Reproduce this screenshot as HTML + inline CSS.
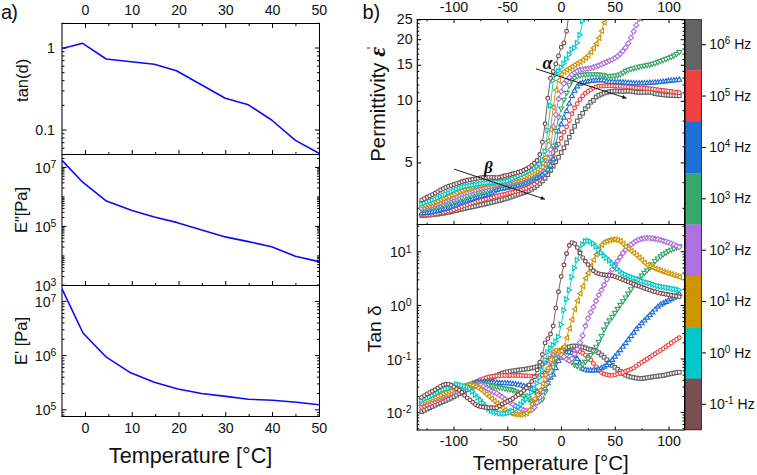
<!DOCTYPE html>
<html><head><meta charset="utf-8"><style>
html,body{margin:0;padding:0;background:#fff;}
svg{display:block;font-family:"Liberation Sans", sans-serif;}
text{fill:#111;}
</style></head><body>
<svg width="757" height="475" viewBox="0 0 757 475">
<rect width="757" height="475" fill="#fff"/>
<line x1="85.50" y1="23.50" x2="85.50" y2="28.00" stroke="#000" stroke-width="1"/>
<line x1="85.50" y1="154.50" x2="85.50" y2="150.00" stroke="#000" stroke-width="1"/>
<line x1="85.50" y1="285.50" x2="85.50" y2="281.00" stroke="#000" stroke-width="1"/>
<line x1="85.50" y1="416.50" x2="85.50" y2="412.00" stroke="#000" stroke-width="1"/>
<line x1="108.88" y1="23.50" x2="108.88" y2="26.00" stroke="#000" stroke-width="1"/>
<line x1="108.88" y1="154.50" x2="108.88" y2="152.00" stroke="#000" stroke-width="1"/>
<line x1="108.88" y1="285.50" x2="108.88" y2="283.00" stroke="#000" stroke-width="1"/>
<line x1="108.88" y1="416.50" x2="108.88" y2="414.00" stroke="#000" stroke-width="1"/>
<line x1="132.26" y1="23.50" x2="132.26" y2="28.00" stroke="#000" stroke-width="1"/>
<line x1="132.26" y1="154.50" x2="132.26" y2="150.00" stroke="#000" stroke-width="1"/>
<line x1="132.26" y1="285.50" x2="132.26" y2="281.00" stroke="#000" stroke-width="1"/>
<line x1="132.26" y1="416.50" x2="132.26" y2="412.00" stroke="#000" stroke-width="1"/>
<line x1="155.64" y1="23.50" x2="155.64" y2="26.00" stroke="#000" stroke-width="1"/>
<line x1="155.64" y1="154.50" x2="155.64" y2="152.00" stroke="#000" stroke-width="1"/>
<line x1="155.64" y1="285.50" x2="155.64" y2="283.00" stroke="#000" stroke-width="1"/>
<line x1="155.64" y1="416.50" x2="155.64" y2="414.00" stroke="#000" stroke-width="1"/>
<line x1="179.02" y1="23.50" x2="179.02" y2="28.00" stroke="#000" stroke-width="1"/>
<line x1="179.02" y1="154.50" x2="179.02" y2="150.00" stroke="#000" stroke-width="1"/>
<line x1="179.02" y1="285.50" x2="179.02" y2="281.00" stroke="#000" stroke-width="1"/>
<line x1="179.02" y1="416.50" x2="179.02" y2="412.00" stroke="#000" stroke-width="1"/>
<line x1="202.40" y1="23.50" x2="202.40" y2="26.00" stroke="#000" stroke-width="1"/>
<line x1="202.40" y1="154.50" x2="202.40" y2="152.00" stroke="#000" stroke-width="1"/>
<line x1="202.40" y1="285.50" x2="202.40" y2="283.00" stroke="#000" stroke-width="1"/>
<line x1="202.40" y1="416.50" x2="202.40" y2="414.00" stroke="#000" stroke-width="1"/>
<line x1="225.78" y1="23.50" x2="225.78" y2="28.00" stroke="#000" stroke-width="1"/>
<line x1="225.78" y1="154.50" x2="225.78" y2="150.00" stroke="#000" stroke-width="1"/>
<line x1="225.78" y1="285.50" x2="225.78" y2="281.00" stroke="#000" stroke-width="1"/>
<line x1="225.78" y1="416.50" x2="225.78" y2="412.00" stroke="#000" stroke-width="1"/>
<line x1="249.16" y1="23.50" x2="249.16" y2="26.00" stroke="#000" stroke-width="1"/>
<line x1="249.16" y1="154.50" x2="249.16" y2="152.00" stroke="#000" stroke-width="1"/>
<line x1="249.16" y1="285.50" x2="249.16" y2="283.00" stroke="#000" stroke-width="1"/>
<line x1="249.16" y1="416.50" x2="249.16" y2="414.00" stroke="#000" stroke-width="1"/>
<line x1="272.54" y1="23.50" x2="272.54" y2="28.00" stroke="#000" stroke-width="1"/>
<line x1="272.54" y1="154.50" x2="272.54" y2="150.00" stroke="#000" stroke-width="1"/>
<line x1="272.54" y1="285.50" x2="272.54" y2="281.00" stroke="#000" stroke-width="1"/>
<line x1="272.54" y1="416.50" x2="272.54" y2="412.00" stroke="#000" stroke-width="1"/>
<line x1="295.92" y1="23.50" x2="295.92" y2="26.00" stroke="#000" stroke-width="1"/>
<line x1="295.92" y1="154.50" x2="295.92" y2="152.00" stroke="#000" stroke-width="1"/>
<line x1="295.92" y1="285.50" x2="295.92" y2="283.00" stroke="#000" stroke-width="1"/>
<line x1="295.92" y1="416.50" x2="295.92" y2="414.00" stroke="#000" stroke-width="1"/>
<line x1="62.00" y1="154.68" x2="64.50" y2="154.68" stroke="#000" stroke-width="1"/>
<line x1="319.50" y1="154.68" x2="317.00" y2="154.68" stroke="#000" stroke-width="1"/>
<line x1="62.00" y1="148.19" x2="64.50" y2="148.19" stroke="#000" stroke-width="1"/>
<line x1="319.50" y1="148.19" x2="317.00" y2="148.19" stroke="#000" stroke-width="1"/>
<line x1="62.00" y1="142.70" x2="64.50" y2="142.70" stroke="#000" stroke-width="1"/>
<line x1="319.50" y1="142.70" x2="317.00" y2="142.70" stroke="#000" stroke-width="1"/>
<line x1="62.00" y1="137.95" x2="64.50" y2="137.95" stroke="#000" stroke-width="1"/>
<line x1="319.50" y1="137.95" x2="317.00" y2="137.95" stroke="#000" stroke-width="1"/>
<line x1="62.00" y1="133.75" x2="64.50" y2="133.75" stroke="#000" stroke-width="1"/>
<line x1="319.50" y1="133.75" x2="317.00" y2="133.75" stroke="#000" stroke-width="1"/>
<line x1="62.00" y1="130.00" x2="66.50" y2="130.00" stroke="#000" stroke-width="1"/>
<line x1="319.50" y1="130.00" x2="315.00" y2="130.00" stroke="#000" stroke-width="1"/>
<line x1="62.00" y1="105.32" x2="64.50" y2="105.32" stroke="#000" stroke-width="1"/>
<line x1="319.50" y1="105.32" x2="317.00" y2="105.32" stroke="#000" stroke-width="1"/>
<line x1="62.00" y1="90.88" x2="64.50" y2="90.88" stroke="#000" stroke-width="1"/>
<line x1="319.50" y1="90.88" x2="317.00" y2="90.88" stroke="#000" stroke-width="1"/>
<line x1="62.00" y1="80.63" x2="64.50" y2="80.63" stroke="#000" stroke-width="1"/>
<line x1="319.50" y1="80.63" x2="317.00" y2="80.63" stroke="#000" stroke-width="1"/>
<line x1="62.00" y1="72.68" x2="64.50" y2="72.68" stroke="#000" stroke-width="1"/>
<line x1="319.50" y1="72.68" x2="317.00" y2="72.68" stroke="#000" stroke-width="1"/>
<line x1="62.00" y1="66.19" x2="64.50" y2="66.19" stroke="#000" stroke-width="1"/>
<line x1="319.50" y1="66.19" x2="317.00" y2="66.19" stroke="#000" stroke-width="1"/>
<line x1="62.00" y1="60.70" x2="64.50" y2="60.70" stroke="#000" stroke-width="1"/>
<line x1="319.50" y1="60.70" x2="317.00" y2="60.70" stroke="#000" stroke-width="1"/>
<line x1="62.00" y1="55.95" x2="64.50" y2="55.95" stroke="#000" stroke-width="1"/>
<line x1="319.50" y1="55.95" x2="317.00" y2="55.95" stroke="#000" stroke-width="1"/>
<line x1="62.00" y1="51.75" x2="64.50" y2="51.75" stroke="#000" stroke-width="1"/>
<line x1="319.50" y1="51.75" x2="317.00" y2="51.75" stroke="#000" stroke-width="1"/>
<line x1="62.00" y1="48.00" x2="66.50" y2="48.00" stroke="#000" stroke-width="1"/>
<line x1="319.50" y1="48.00" x2="315.00" y2="48.00" stroke="#000" stroke-width="1"/>
<line x1="62.00" y1="23.32" x2="64.50" y2="23.32" stroke="#000" stroke-width="1"/>
<line x1="319.50" y1="23.32" x2="317.00" y2="23.32" stroke="#000" stroke-width="1"/>
<line x1="62.00" y1="285.40" x2="66.50" y2="285.40" stroke="#000" stroke-width="1"/>
<line x1="319.50" y1="285.40" x2="315.00" y2="285.40" stroke="#000" stroke-width="1"/>
<line x1="62.00" y1="276.52" x2="64.50" y2="276.52" stroke="#000" stroke-width="1"/>
<line x1="319.50" y1="276.52" x2="317.00" y2="276.52" stroke="#000" stroke-width="1"/>
<line x1="62.00" y1="271.32" x2="64.50" y2="271.32" stroke="#000" stroke-width="1"/>
<line x1="319.50" y1="271.32" x2="317.00" y2="271.32" stroke="#000" stroke-width="1"/>
<line x1="62.00" y1="267.64" x2="64.50" y2="267.64" stroke="#000" stroke-width="1"/>
<line x1="319.50" y1="267.64" x2="317.00" y2="267.64" stroke="#000" stroke-width="1"/>
<line x1="62.00" y1="264.78" x2="64.50" y2="264.78" stroke="#000" stroke-width="1"/>
<line x1="319.50" y1="264.78" x2="317.00" y2="264.78" stroke="#000" stroke-width="1"/>
<line x1="62.00" y1="262.44" x2="64.50" y2="262.44" stroke="#000" stroke-width="1"/>
<line x1="319.50" y1="262.44" x2="317.00" y2="262.44" stroke="#000" stroke-width="1"/>
<line x1="62.00" y1="260.47" x2="64.50" y2="260.47" stroke="#000" stroke-width="1"/>
<line x1="319.50" y1="260.47" x2="317.00" y2="260.47" stroke="#000" stroke-width="1"/>
<line x1="62.00" y1="258.76" x2="64.50" y2="258.76" stroke="#000" stroke-width="1"/>
<line x1="319.50" y1="258.76" x2="317.00" y2="258.76" stroke="#000" stroke-width="1"/>
<line x1="62.00" y1="257.25" x2="64.50" y2="257.25" stroke="#000" stroke-width="1"/>
<line x1="319.50" y1="257.25" x2="317.00" y2="257.25" stroke="#000" stroke-width="1"/>
<line x1="62.00" y1="255.90" x2="64.50" y2="255.90" stroke="#000" stroke-width="1"/>
<line x1="319.50" y1="255.90" x2="317.00" y2="255.90" stroke="#000" stroke-width="1"/>
<line x1="62.00" y1="247.02" x2="64.50" y2="247.02" stroke="#000" stroke-width="1"/>
<line x1="319.50" y1="247.02" x2="317.00" y2="247.02" stroke="#000" stroke-width="1"/>
<line x1="62.00" y1="241.82" x2="64.50" y2="241.82" stroke="#000" stroke-width="1"/>
<line x1="319.50" y1="241.82" x2="317.00" y2="241.82" stroke="#000" stroke-width="1"/>
<line x1="62.00" y1="238.14" x2="64.50" y2="238.14" stroke="#000" stroke-width="1"/>
<line x1="319.50" y1="238.14" x2="317.00" y2="238.14" stroke="#000" stroke-width="1"/>
<line x1="62.00" y1="235.28" x2="64.50" y2="235.28" stroke="#000" stroke-width="1"/>
<line x1="319.50" y1="235.28" x2="317.00" y2="235.28" stroke="#000" stroke-width="1"/>
<line x1="62.00" y1="232.94" x2="64.50" y2="232.94" stroke="#000" stroke-width="1"/>
<line x1="319.50" y1="232.94" x2="317.00" y2="232.94" stroke="#000" stroke-width="1"/>
<line x1="62.00" y1="230.97" x2="64.50" y2="230.97" stroke="#000" stroke-width="1"/>
<line x1="319.50" y1="230.97" x2="317.00" y2="230.97" stroke="#000" stroke-width="1"/>
<line x1="62.00" y1="229.26" x2="64.50" y2="229.26" stroke="#000" stroke-width="1"/>
<line x1="319.50" y1="229.26" x2="317.00" y2="229.26" stroke="#000" stroke-width="1"/>
<line x1="62.00" y1="227.75" x2="64.50" y2="227.75" stroke="#000" stroke-width="1"/>
<line x1="319.50" y1="227.75" x2="317.00" y2="227.75" stroke="#000" stroke-width="1"/>
<line x1="62.00" y1="226.40" x2="66.50" y2="226.40" stroke="#000" stroke-width="1"/>
<line x1="319.50" y1="226.40" x2="315.00" y2="226.40" stroke="#000" stroke-width="1"/>
<line x1="62.00" y1="217.52" x2="64.50" y2="217.52" stroke="#000" stroke-width="1"/>
<line x1="319.50" y1="217.52" x2="317.00" y2="217.52" stroke="#000" stroke-width="1"/>
<line x1="62.00" y1="212.32" x2="64.50" y2="212.32" stroke="#000" stroke-width="1"/>
<line x1="319.50" y1="212.32" x2="317.00" y2="212.32" stroke="#000" stroke-width="1"/>
<line x1="62.00" y1="208.64" x2="64.50" y2="208.64" stroke="#000" stroke-width="1"/>
<line x1="319.50" y1="208.64" x2="317.00" y2="208.64" stroke="#000" stroke-width="1"/>
<line x1="62.00" y1="205.78" x2="64.50" y2="205.78" stroke="#000" stroke-width="1"/>
<line x1="319.50" y1="205.78" x2="317.00" y2="205.78" stroke="#000" stroke-width="1"/>
<line x1="62.00" y1="203.44" x2="64.50" y2="203.44" stroke="#000" stroke-width="1"/>
<line x1="319.50" y1="203.44" x2="317.00" y2="203.44" stroke="#000" stroke-width="1"/>
<line x1="62.00" y1="201.47" x2="64.50" y2="201.47" stroke="#000" stroke-width="1"/>
<line x1="319.50" y1="201.47" x2="317.00" y2="201.47" stroke="#000" stroke-width="1"/>
<line x1="62.00" y1="199.76" x2="64.50" y2="199.76" stroke="#000" stroke-width="1"/>
<line x1="319.50" y1="199.76" x2="317.00" y2="199.76" stroke="#000" stroke-width="1"/>
<line x1="62.00" y1="198.25" x2="64.50" y2="198.25" stroke="#000" stroke-width="1"/>
<line x1="319.50" y1="198.25" x2="317.00" y2="198.25" stroke="#000" stroke-width="1"/>
<line x1="62.00" y1="196.90" x2="64.50" y2="196.90" stroke="#000" stroke-width="1"/>
<line x1="319.50" y1="196.90" x2="317.00" y2="196.90" stroke="#000" stroke-width="1"/>
<line x1="62.00" y1="188.02" x2="64.50" y2="188.02" stroke="#000" stroke-width="1"/>
<line x1="319.50" y1="188.02" x2="317.00" y2="188.02" stroke="#000" stroke-width="1"/>
<line x1="62.00" y1="182.82" x2="64.50" y2="182.82" stroke="#000" stroke-width="1"/>
<line x1="319.50" y1="182.82" x2="317.00" y2="182.82" stroke="#000" stroke-width="1"/>
<line x1="62.00" y1="179.14" x2="64.50" y2="179.14" stroke="#000" stroke-width="1"/>
<line x1="319.50" y1="179.14" x2="317.00" y2="179.14" stroke="#000" stroke-width="1"/>
<line x1="62.00" y1="176.28" x2="64.50" y2="176.28" stroke="#000" stroke-width="1"/>
<line x1="319.50" y1="176.28" x2="317.00" y2="176.28" stroke="#000" stroke-width="1"/>
<line x1="62.00" y1="173.94" x2="64.50" y2="173.94" stroke="#000" stroke-width="1"/>
<line x1="319.50" y1="173.94" x2="317.00" y2="173.94" stroke="#000" stroke-width="1"/>
<line x1="62.00" y1="171.97" x2="64.50" y2="171.97" stroke="#000" stroke-width="1"/>
<line x1="319.50" y1="171.97" x2="317.00" y2="171.97" stroke="#000" stroke-width="1"/>
<line x1="62.00" y1="170.26" x2="64.50" y2="170.26" stroke="#000" stroke-width="1"/>
<line x1="319.50" y1="170.26" x2="317.00" y2="170.26" stroke="#000" stroke-width="1"/>
<line x1="62.00" y1="168.75" x2="64.50" y2="168.75" stroke="#000" stroke-width="1"/>
<line x1="319.50" y1="168.75" x2="317.00" y2="168.75" stroke="#000" stroke-width="1"/>
<line x1="62.00" y1="167.40" x2="66.50" y2="167.40" stroke="#000" stroke-width="1"/>
<line x1="319.50" y1="167.40" x2="315.00" y2="167.40" stroke="#000" stroke-width="1"/>
<line x1="62.00" y1="158.52" x2="64.50" y2="158.52" stroke="#000" stroke-width="1"/>
<line x1="319.50" y1="158.52" x2="317.00" y2="158.52" stroke="#000" stroke-width="1"/>
<line x1="62.00" y1="415.05" x2="64.50" y2="415.05" stroke="#000" stroke-width="1"/>
<line x1="319.50" y1="415.05" x2="317.00" y2="415.05" stroke="#000" stroke-width="1"/>
<line x1="62.00" y1="412.28" x2="64.50" y2="412.28" stroke="#000" stroke-width="1"/>
<line x1="319.50" y1="412.28" x2="317.00" y2="412.28" stroke="#000" stroke-width="1"/>
<line x1="62.00" y1="409.80" x2="66.50" y2="409.80" stroke="#000" stroke-width="1"/>
<line x1="319.50" y1="409.80" x2="315.00" y2="409.80" stroke="#000" stroke-width="1"/>
<line x1="62.00" y1="393.48" x2="64.50" y2="393.48" stroke="#000" stroke-width="1"/>
<line x1="319.50" y1="393.48" x2="317.00" y2="393.48" stroke="#000" stroke-width="1"/>
<line x1="62.00" y1="383.94" x2="64.50" y2="383.94" stroke="#000" stroke-width="1"/>
<line x1="319.50" y1="383.94" x2="317.00" y2="383.94" stroke="#000" stroke-width="1"/>
<line x1="62.00" y1="377.17" x2="64.50" y2="377.17" stroke="#000" stroke-width="1"/>
<line x1="319.50" y1="377.17" x2="317.00" y2="377.17" stroke="#000" stroke-width="1"/>
<line x1="62.00" y1="371.92" x2="64.50" y2="371.92" stroke="#000" stroke-width="1"/>
<line x1="319.50" y1="371.92" x2="317.00" y2="371.92" stroke="#000" stroke-width="1"/>
<line x1="62.00" y1="367.62" x2="64.50" y2="367.62" stroke="#000" stroke-width="1"/>
<line x1="319.50" y1="367.62" x2="317.00" y2="367.62" stroke="#000" stroke-width="1"/>
<line x1="62.00" y1="364.00" x2="64.50" y2="364.00" stroke="#000" stroke-width="1"/>
<line x1="319.50" y1="364.00" x2="317.00" y2="364.00" stroke="#000" stroke-width="1"/>
<line x1="62.00" y1="360.85" x2="64.50" y2="360.85" stroke="#000" stroke-width="1"/>
<line x1="319.50" y1="360.85" x2="317.00" y2="360.85" stroke="#000" stroke-width="1"/>
<line x1="62.00" y1="358.08" x2="64.50" y2="358.08" stroke="#000" stroke-width="1"/>
<line x1="319.50" y1="358.08" x2="317.00" y2="358.08" stroke="#000" stroke-width="1"/>
<line x1="62.00" y1="355.60" x2="66.50" y2="355.60" stroke="#000" stroke-width="1"/>
<line x1="319.50" y1="355.60" x2="315.00" y2="355.60" stroke="#000" stroke-width="1"/>
<line x1="62.00" y1="339.28" x2="64.50" y2="339.28" stroke="#000" stroke-width="1"/>
<line x1="319.50" y1="339.28" x2="317.00" y2="339.28" stroke="#000" stroke-width="1"/>
<line x1="62.00" y1="329.74" x2="64.50" y2="329.74" stroke="#000" stroke-width="1"/>
<line x1="319.50" y1="329.74" x2="317.00" y2="329.74" stroke="#000" stroke-width="1"/>
<line x1="62.00" y1="322.97" x2="64.50" y2="322.97" stroke="#000" stroke-width="1"/>
<line x1="319.50" y1="322.97" x2="317.00" y2="322.97" stroke="#000" stroke-width="1"/>
<line x1="62.00" y1="317.72" x2="64.50" y2="317.72" stroke="#000" stroke-width="1"/>
<line x1="319.50" y1="317.72" x2="317.00" y2="317.72" stroke="#000" stroke-width="1"/>
<line x1="62.00" y1="313.42" x2="64.50" y2="313.42" stroke="#000" stroke-width="1"/>
<line x1="319.50" y1="313.42" x2="317.00" y2="313.42" stroke="#000" stroke-width="1"/>
<line x1="62.00" y1="309.80" x2="64.50" y2="309.80" stroke="#000" stroke-width="1"/>
<line x1="319.50" y1="309.80" x2="317.00" y2="309.80" stroke="#000" stroke-width="1"/>
<line x1="62.00" y1="306.65" x2="64.50" y2="306.65" stroke="#000" stroke-width="1"/>
<line x1="319.50" y1="306.65" x2="317.00" y2="306.65" stroke="#000" stroke-width="1"/>
<line x1="62.00" y1="303.88" x2="64.50" y2="303.88" stroke="#000" stroke-width="1"/>
<line x1="319.50" y1="303.88" x2="317.00" y2="303.88" stroke="#000" stroke-width="1"/>
<line x1="62.00" y1="301.40" x2="66.50" y2="301.40" stroke="#000" stroke-width="1"/>
<line x1="319.50" y1="301.40" x2="315.00" y2="301.40" stroke="#000" stroke-width="1"/>
<line x1="62.00" y1="285.08" x2="64.50" y2="285.08" stroke="#000" stroke-width="1"/>
<line x1="319.50" y1="285.08" x2="317.00" y2="285.08" stroke="#000" stroke-width="1"/>
<line x1="62.00" y1="23.00" x2="62.00" y2="417.00" stroke="#000" stroke-width="1.05"/>
<line x1="319.50" y1="23.00" x2="319.50" y2="417.00" stroke="#000" stroke-width="1.0"/>
<line x1="61.50" y1="23.50" x2="320.00" y2="23.50" stroke="#000" stroke-width="1.0"/>
<line x1="61.50" y1="154.50" x2="320.00" y2="154.50" stroke="#000" stroke-width="1.0"/>
<line x1="61.50" y1="285.50" x2="320.00" y2="285.50" stroke="#000" stroke-width="1.0"/>
<line x1="61.50" y1="416.50" x2="320.00" y2="416.50" stroke="#000" stroke-width="1.0"/>
<text x="85.50" y="14.60" font-size="14.2" text-anchor="middle" >0</text>
<text x="85.50" y="432.60" font-size="14.2" text-anchor="middle" >0</text>
<text x="132.26" y="14.60" font-size="14.2" text-anchor="middle" >10</text>
<text x="132.26" y="432.60" font-size="14.2" text-anchor="middle" >10</text>
<text x="179.02" y="14.60" font-size="14.2" text-anchor="middle" >20</text>
<text x="179.02" y="432.60" font-size="14.2" text-anchor="middle" >20</text>
<text x="225.78" y="14.60" font-size="14.2" text-anchor="middle" >30</text>
<text x="225.78" y="432.60" font-size="14.2" text-anchor="middle" >30</text>
<text x="272.54" y="14.60" font-size="14.2" text-anchor="middle" >40</text>
<text x="272.54" y="432.60" font-size="14.2" text-anchor="middle" >40</text>
<text x="319.30" y="14.60" font-size="14.2" text-anchor="middle" >50</text>
<text x="319.30" y="432.60" font-size="14.2" text-anchor="middle" >50</text>
<text x="55.00" y="52.90" font-size="14.2" text-anchor="end" >1</text>
<text x="55.00" y="134.90" font-size="14.2" text-anchor="end" >0.1</text>
<text x="56.40" y="172.60" font-size="14.2" text-anchor="end">10<tspan font-size="10.5" dy="-4.8">7</tspan></text>
<text x="56.40" y="231.60" font-size="14.2" text-anchor="end">10<tspan font-size="10.5" dy="-4.8">5</tspan></text>
<text x="56.40" y="290.60" font-size="14.2" text-anchor="end">10<tspan font-size="10.5" dy="-4.8">3</tspan></text>
<text x="56.40" y="306.60" font-size="14.2" text-anchor="end">10<tspan font-size="10.5" dy="-4.8">7</tspan></text>
<text x="56.40" y="360.80" font-size="14.2" text-anchor="end">10<tspan font-size="10.5" dy="-4.8">6</tspan></text>
<text x="56.40" y="415.00" font-size="14.2" text-anchor="end">10<tspan font-size="10.5" dy="-4.8">5</tspan></text>
<text transform="translate(27.50,80.40) rotate(-90)" font-size="16.5" text-anchor="middle">tan(d)</text>
<text transform="translate(27.00,210.00) rotate(-90)" font-size="16.5" text-anchor="middle">E"[Pa]</text>
<text transform="translate(27.00,341.00) rotate(-90)" font-size="16.5" text-anchor="middle">E' [Pa]</text>
<text x="190.60" y="463.20" font-size="21.6" text-anchor="middle" >Temperature [°C]</text>
<text x="1.00" y="19.30" font-size="20" text-anchor="start" letter-spacing="-0.9">a)</text>
<polyline fill="none" stroke="#0a0aff" stroke-width="1.6" stroke-linejoin="round" points="62.2,48.5 82.7,43.3 106.2,59.0 154.3,64.2 176.5,70.7 225.3,98.3 248.4,104.8 271.6,120.0 295.4,140.4 319.0,153.3"/>
<polyline fill="none" stroke="#0a0aff" stroke-width="1.6" stroke-linejoin="round" points="62.0,160.4 82.7,182.2 106.4,201.1 132.0,210.6 154.3,217.0 176.5,222.4 225.3,236.9 248.4,241.6 271.6,246.8 295.4,256.3 319.0,261.6"/>
<polyline fill="none" stroke="#0a0aff" stroke-width="1.6" stroke-linejoin="round" points="62.0,288.8 83.0,333.0 106.3,357.2 130.7,372.8 154.3,382.3 177.9,389.0 201.6,393.5 225.9,396.4 248.4,399.2 272.5,400.3 296.5,402.2 319.0,404.7"/>
<line x1="427.12" y1="19.50" x2="427.12" y2="21.30" stroke="#000" stroke-width="1"/>
<line x1="427.12" y1="224.50" x2="427.12" y2="222.70" stroke="#000" stroke-width="1"/>
<line x1="427.12" y1="430.00" x2="427.12" y2="428.20" stroke="#000" stroke-width="1"/>
<line x1="454.00" y1="19.50" x2="454.00" y2="23.10" stroke="#000" stroke-width="1"/>
<line x1="454.00" y1="224.50" x2="454.00" y2="220.90" stroke="#000" stroke-width="1"/>
<line x1="454.00" y1="430.00" x2="454.00" y2="426.40" stroke="#000" stroke-width="1"/>
<line x1="480.88" y1="19.50" x2="480.88" y2="21.30" stroke="#000" stroke-width="1"/>
<line x1="480.88" y1="224.50" x2="480.88" y2="222.70" stroke="#000" stroke-width="1"/>
<line x1="480.88" y1="430.00" x2="480.88" y2="428.20" stroke="#000" stroke-width="1"/>
<line x1="507.75" y1="19.50" x2="507.75" y2="23.10" stroke="#000" stroke-width="1"/>
<line x1="507.75" y1="224.50" x2="507.75" y2="220.90" stroke="#000" stroke-width="1"/>
<line x1="507.75" y1="430.00" x2="507.75" y2="426.40" stroke="#000" stroke-width="1"/>
<line x1="534.62" y1="19.50" x2="534.62" y2="21.30" stroke="#000" stroke-width="1"/>
<line x1="534.62" y1="224.50" x2="534.62" y2="222.70" stroke="#000" stroke-width="1"/>
<line x1="534.62" y1="430.00" x2="534.62" y2="428.20" stroke="#000" stroke-width="1"/>
<line x1="561.50" y1="19.50" x2="561.50" y2="23.10" stroke="#000" stroke-width="1"/>
<line x1="561.50" y1="224.50" x2="561.50" y2="220.90" stroke="#000" stroke-width="1"/>
<line x1="561.50" y1="430.00" x2="561.50" y2="426.40" stroke="#000" stroke-width="1"/>
<line x1="588.38" y1="19.50" x2="588.38" y2="21.30" stroke="#000" stroke-width="1"/>
<line x1="588.38" y1="224.50" x2="588.38" y2="222.70" stroke="#000" stroke-width="1"/>
<line x1="588.38" y1="430.00" x2="588.38" y2="428.20" stroke="#000" stroke-width="1"/>
<line x1="615.25" y1="19.50" x2="615.25" y2="23.10" stroke="#000" stroke-width="1"/>
<line x1="615.25" y1="224.50" x2="615.25" y2="220.90" stroke="#000" stroke-width="1"/>
<line x1="615.25" y1="430.00" x2="615.25" y2="426.40" stroke="#000" stroke-width="1"/>
<line x1="642.12" y1="19.50" x2="642.12" y2="21.30" stroke="#000" stroke-width="1"/>
<line x1="642.12" y1="224.50" x2="642.12" y2="222.70" stroke="#000" stroke-width="1"/>
<line x1="642.12" y1="430.00" x2="642.12" y2="428.20" stroke="#000" stroke-width="1"/>
<line x1="669.00" y1="19.50" x2="669.00" y2="23.10" stroke="#000" stroke-width="1"/>
<line x1="669.00" y1="224.50" x2="669.00" y2="220.90" stroke="#000" stroke-width="1"/>
<line x1="669.00" y1="430.00" x2="669.00" y2="426.40" stroke="#000" stroke-width="1"/>
<line x1="417.30" y1="208.28" x2="419.30" y2="208.28" stroke="#000" stroke-width="1"/>
<line x1="684.50" y1="208.28" x2="682.50" y2="208.28" stroke="#000" stroke-width="1"/>
<line x1="417.30" y1="182.72" x2="419.30" y2="182.72" stroke="#000" stroke-width="1"/>
<line x1="684.50" y1="182.72" x2="682.50" y2="182.72" stroke="#000" stroke-width="1"/>
<line x1="417.30" y1="162.89" x2="421.10" y2="162.89" stroke="#000" stroke-width="1"/>
<line x1="684.50" y1="162.89" x2="680.70" y2="162.89" stroke="#000" stroke-width="1"/>
<line x1="417.30" y1="146.69" x2="419.30" y2="146.69" stroke="#000" stroke-width="1"/>
<line x1="684.50" y1="146.69" x2="682.50" y2="146.69" stroke="#000" stroke-width="1"/>
<line x1="417.30" y1="132.99" x2="419.30" y2="132.99" stroke="#000" stroke-width="1"/>
<line x1="684.50" y1="132.99" x2="682.50" y2="132.99" stroke="#000" stroke-width="1"/>
<line x1="417.30" y1="121.13" x2="419.30" y2="121.13" stroke="#000" stroke-width="1"/>
<line x1="684.50" y1="121.13" x2="682.50" y2="121.13" stroke="#000" stroke-width="1"/>
<line x1="417.30" y1="110.66" x2="419.30" y2="110.66" stroke="#000" stroke-width="1"/>
<line x1="684.50" y1="110.66" x2="682.50" y2="110.66" stroke="#000" stroke-width="1"/>
<line x1="417.30" y1="101.30" x2="421.10" y2="101.30" stroke="#000" stroke-width="1"/>
<line x1="684.50" y1="101.30" x2="680.70" y2="101.30" stroke="#000" stroke-width="1"/>
<line x1="417.30" y1="92.83" x2="419.30" y2="92.83" stroke="#000" stroke-width="1"/>
<line x1="684.50" y1="92.83" x2="682.50" y2="92.83" stroke="#000" stroke-width="1"/>
<line x1="417.30" y1="85.10" x2="419.30" y2="85.10" stroke="#000" stroke-width="1"/>
<line x1="684.50" y1="85.10" x2="682.50" y2="85.10" stroke="#000" stroke-width="1"/>
<line x1="417.30" y1="77.99" x2="419.30" y2="77.99" stroke="#000" stroke-width="1"/>
<line x1="684.50" y1="77.99" x2="682.50" y2="77.99" stroke="#000" stroke-width="1"/>
<line x1="417.30" y1="71.40" x2="419.30" y2="71.40" stroke="#000" stroke-width="1"/>
<line x1="684.50" y1="71.40" x2="682.50" y2="71.40" stroke="#000" stroke-width="1"/>
<line x1="417.30" y1="65.27" x2="421.10" y2="65.27" stroke="#000" stroke-width="1"/>
<line x1="684.50" y1="65.27" x2="680.70" y2="65.27" stroke="#000" stroke-width="1"/>
<line x1="417.30" y1="59.54" x2="419.30" y2="59.54" stroke="#000" stroke-width="1"/>
<line x1="684.50" y1="59.54" x2="682.50" y2="59.54" stroke="#000" stroke-width="1"/>
<line x1="417.30" y1="54.15" x2="419.30" y2="54.15" stroke="#000" stroke-width="1"/>
<line x1="684.50" y1="54.15" x2="682.50" y2="54.15" stroke="#000" stroke-width="1"/>
<line x1="417.30" y1="49.07" x2="419.30" y2="49.07" stroke="#000" stroke-width="1"/>
<line x1="684.50" y1="49.07" x2="682.50" y2="49.07" stroke="#000" stroke-width="1"/>
<line x1="417.30" y1="44.27" x2="419.30" y2="44.27" stroke="#000" stroke-width="1"/>
<line x1="684.50" y1="44.27" x2="682.50" y2="44.27" stroke="#000" stroke-width="1"/>
<line x1="417.30" y1="39.71" x2="421.10" y2="39.71" stroke="#000" stroke-width="1"/>
<line x1="684.50" y1="39.71" x2="680.70" y2="39.71" stroke="#000" stroke-width="1"/>
<line x1="417.30" y1="35.37" x2="419.30" y2="35.37" stroke="#000" stroke-width="1"/>
<line x1="684.50" y1="35.37" x2="682.50" y2="35.37" stroke="#000" stroke-width="1"/>
<line x1="417.30" y1="31.24" x2="419.30" y2="31.24" stroke="#000" stroke-width="1"/>
<line x1="684.50" y1="31.24" x2="682.50" y2="31.24" stroke="#000" stroke-width="1"/>
<line x1="417.30" y1="27.29" x2="419.30" y2="27.29" stroke="#000" stroke-width="1"/>
<line x1="684.50" y1="27.29" x2="682.50" y2="27.29" stroke="#000" stroke-width="1"/>
<line x1="417.30" y1="23.51" x2="419.30" y2="23.51" stroke="#000" stroke-width="1"/>
<line x1="684.50" y1="23.51" x2="682.50" y2="23.51" stroke="#000" stroke-width="1"/>
<line x1="417.30" y1="19.88" x2="421.10" y2="19.88" stroke="#000" stroke-width="1"/>
<line x1="684.50" y1="19.88" x2="680.70" y2="19.88" stroke="#000" stroke-width="1"/>
<line x1="417.30" y1="428.74" x2="419.30" y2="428.74" stroke="#000" stroke-width="1"/>
<line x1="684.50" y1="428.74" x2="682.50" y2="428.74" stroke="#000" stroke-width="1"/>
<line x1="417.30" y1="424.49" x2="419.30" y2="424.49" stroke="#000" stroke-width="1"/>
<line x1="684.50" y1="424.49" x2="682.50" y2="424.49" stroke="#000" stroke-width="1"/>
<line x1="417.30" y1="420.90" x2="419.30" y2="420.90" stroke="#000" stroke-width="1"/>
<line x1="684.50" y1="420.90" x2="682.50" y2="420.90" stroke="#000" stroke-width="1"/>
<line x1="417.30" y1="417.79" x2="419.30" y2="417.79" stroke="#000" stroke-width="1"/>
<line x1="684.50" y1="417.79" x2="682.50" y2="417.79" stroke="#000" stroke-width="1"/>
<line x1="417.30" y1="415.05" x2="419.30" y2="415.05" stroke="#000" stroke-width="1"/>
<line x1="684.50" y1="415.05" x2="682.50" y2="415.05" stroke="#000" stroke-width="1"/>
<line x1="417.30" y1="412.60" x2="421.10" y2="412.60" stroke="#000" stroke-width="1"/>
<line x1="684.50" y1="412.60" x2="680.70" y2="412.60" stroke="#000" stroke-width="1"/>
<line x1="417.30" y1="396.46" x2="419.30" y2="396.46" stroke="#000" stroke-width="1"/>
<line x1="684.50" y1="396.46" x2="682.50" y2="396.46" stroke="#000" stroke-width="1"/>
<line x1="417.30" y1="387.03" x2="419.30" y2="387.03" stroke="#000" stroke-width="1"/>
<line x1="684.50" y1="387.03" x2="682.50" y2="387.03" stroke="#000" stroke-width="1"/>
<line x1="417.30" y1="380.33" x2="419.30" y2="380.33" stroke="#000" stroke-width="1"/>
<line x1="684.50" y1="380.33" x2="682.50" y2="380.33" stroke="#000" stroke-width="1"/>
<line x1="417.30" y1="375.14" x2="419.30" y2="375.14" stroke="#000" stroke-width="1"/>
<line x1="684.50" y1="375.14" x2="682.50" y2="375.14" stroke="#000" stroke-width="1"/>
<line x1="417.30" y1="370.89" x2="419.30" y2="370.89" stroke="#000" stroke-width="1"/>
<line x1="684.50" y1="370.89" x2="682.50" y2="370.89" stroke="#000" stroke-width="1"/>
<line x1="417.30" y1="367.30" x2="419.30" y2="367.30" stroke="#000" stroke-width="1"/>
<line x1="684.50" y1="367.30" x2="682.50" y2="367.30" stroke="#000" stroke-width="1"/>
<line x1="417.30" y1="364.19" x2="419.30" y2="364.19" stroke="#000" stroke-width="1"/>
<line x1="684.50" y1="364.19" x2="682.50" y2="364.19" stroke="#000" stroke-width="1"/>
<line x1="417.30" y1="361.45" x2="419.30" y2="361.45" stroke="#000" stroke-width="1"/>
<line x1="684.50" y1="361.45" x2="682.50" y2="361.45" stroke="#000" stroke-width="1"/>
<line x1="417.30" y1="359.00" x2="421.10" y2="359.00" stroke="#000" stroke-width="1"/>
<line x1="684.50" y1="359.00" x2="680.70" y2="359.00" stroke="#000" stroke-width="1"/>
<line x1="417.30" y1="342.86" x2="419.30" y2="342.86" stroke="#000" stroke-width="1"/>
<line x1="684.50" y1="342.86" x2="682.50" y2="342.86" stroke="#000" stroke-width="1"/>
<line x1="417.30" y1="333.43" x2="419.30" y2="333.43" stroke="#000" stroke-width="1"/>
<line x1="684.50" y1="333.43" x2="682.50" y2="333.43" stroke="#000" stroke-width="1"/>
<line x1="417.30" y1="326.73" x2="419.30" y2="326.73" stroke="#000" stroke-width="1"/>
<line x1="684.50" y1="326.73" x2="682.50" y2="326.73" stroke="#000" stroke-width="1"/>
<line x1="417.30" y1="321.54" x2="419.30" y2="321.54" stroke="#000" stroke-width="1"/>
<line x1="684.50" y1="321.54" x2="682.50" y2="321.54" stroke="#000" stroke-width="1"/>
<line x1="417.30" y1="317.29" x2="419.30" y2="317.29" stroke="#000" stroke-width="1"/>
<line x1="684.50" y1="317.29" x2="682.50" y2="317.29" stroke="#000" stroke-width="1"/>
<line x1="417.30" y1="313.70" x2="419.30" y2="313.70" stroke="#000" stroke-width="1"/>
<line x1="684.50" y1="313.70" x2="682.50" y2="313.70" stroke="#000" stroke-width="1"/>
<line x1="417.30" y1="310.59" x2="419.30" y2="310.59" stroke="#000" stroke-width="1"/>
<line x1="684.50" y1="310.59" x2="682.50" y2="310.59" stroke="#000" stroke-width="1"/>
<line x1="417.30" y1="307.85" x2="419.30" y2="307.85" stroke="#000" stroke-width="1"/>
<line x1="684.50" y1="307.85" x2="682.50" y2="307.85" stroke="#000" stroke-width="1"/>
<line x1="417.30" y1="305.40" x2="421.10" y2="305.40" stroke="#000" stroke-width="1"/>
<line x1="684.50" y1="305.40" x2="680.70" y2="305.40" stroke="#000" stroke-width="1"/>
<line x1="417.30" y1="289.26" x2="419.30" y2="289.26" stroke="#000" stroke-width="1"/>
<line x1="684.50" y1="289.26" x2="682.50" y2="289.26" stroke="#000" stroke-width="1"/>
<line x1="417.30" y1="279.83" x2="419.30" y2="279.83" stroke="#000" stroke-width="1"/>
<line x1="684.50" y1="279.83" x2="682.50" y2="279.83" stroke="#000" stroke-width="1"/>
<line x1="417.30" y1="273.13" x2="419.30" y2="273.13" stroke="#000" stroke-width="1"/>
<line x1="684.50" y1="273.13" x2="682.50" y2="273.13" stroke="#000" stroke-width="1"/>
<line x1="417.30" y1="267.94" x2="419.30" y2="267.94" stroke="#000" stroke-width="1"/>
<line x1="684.50" y1="267.94" x2="682.50" y2="267.94" stroke="#000" stroke-width="1"/>
<line x1="417.30" y1="263.69" x2="419.30" y2="263.69" stroke="#000" stroke-width="1"/>
<line x1="684.50" y1="263.69" x2="682.50" y2="263.69" stroke="#000" stroke-width="1"/>
<line x1="417.30" y1="260.10" x2="419.30" y2="260.10" stroke="#000" stroke-width="1"/>
<line x1="684.50" y1="260.10" x2="682.50" y2="260.10" stroke="#000" stroke-width="1"/>
<line x1="417.30" y1="256.99" x2="419.30" y2="256.99" stroke="#000" stroke-width="1"/>
<line x1="684.50" y1="256.99" x2="682.50" y2="256.99" stroke="#000" stroke-width="1"/>
<line x1="417.30" y1="254.25" x2="419.30" y2="254.25" stroke="#000" stroke-width="1"/>
<line x1="684.50" y1="254.25" x2="682.50" y2="254.25" stroke="#000" stroke-width="1"/>
<line x1="417.30" y1="251.80" x2="421.10" y2="251.80" stroke="#000" stroke-width="1"/>
<line x1="684.50" y1="251.80" x2="680.70" y2="251.80" stroke="#000" stroke-width="1"/>
<line x1="417.30" y1="235.66" x2="419.30" y2="235.66" stroke="#000" stroke-width="1"/>
<line x1="684.50" y1="235.66" x2="682.50" y2="235.66" stroke="#000" stroke-width="1"/>
<line x1="417.30" y1="226.23" x2="419.30" y2="226.23" stroke="#000" stroke-width="1"/>
<line x1="684.50" y1="226.23" x2="682.50" y2="226.23" stroke="#000" stroke-width="1"/>
<line x1="417.30" y1="19.00" x2="417.30" y2="430.50" stroke="#000" stroke-width="1.15"/>
<line x1="684.50" y1="19.00" x2="684.50" y2="430.50" stroke="#000" stroke-width="1.0"/>
<line x1="416.80" y1="19.50" x2="685.00" y2="19.50" stroke="#000" stroke-width="1.0"/>
<line x1="416.80" y1="224.50" x2="685.00" y2="224.50" stroke="#000" stroke-width="1.0"/>
<line x1="416.80" y1="430.00" x2="685.00" y2="430.00" stroke="#000" stroke-width="1.0"/>
<text x="454.00" y="12.30" font-size="14.2" text-anchor="middle" >-100</text>
<text x="454.00" y="445.60" font-size="14.2" text-anchor="middle" >-100</text>
<text x="507.75" y="12.30" font-size="14.2" text-anchor="middle" >-50</text>
<text x="507.75" y="445.60" font-size="14.2" text-anchor="middle" >-50</text>
<text x="561.50" y="12.30" font-size="14.2" text-anchor="middle" >0</text>
<text x="561.50" y="445.60" font-size="14.2" text-anchor="middle" >0</text>
<text x="615.25" y="12.30" font-size="14.2" text-anchor="middle" >50</text>
<text x="615.25" y="445.60" font-size="14.2" text-anchor="middle" >50</text>
<text x="669.00" y="12.30" font-size="14.2" text-anchor="middle" >100</text>
<text x="669.00" y="445.60" font-size="14.2" text-anchor="middle" >100</text>
<text x="412.60" y="166.79" font-size="14.2" text-anchor="end" >5</text>
<text x="412.60" y="105.20" font-size="14.2" text-anchor="end" >10</text>
<text x="412.60" y="69.17" font-size="14.2" text-anchor="end" >15</text>
<text x="412.60" y="43.61" font-size="14.2" text-anchor="end" >20</text>
<text x="412.60" y="23.78" font-size="14.2" text-anchor="end" >25</text>
<text x="411.60" y="257.40" font-size="14.2" text-anchor="end">10<tspan font-size="10.5" dy="-4.8">1</tspan></text>
<text x="411.60" y="311.00" font-size="14.2" text-anchor="end">10<tspan font-size="10.5" dy="-4.8">0</tspan></text>
<text x="411.60" y="364.60" font-size="14.2" text-anchor="end">10<tspan font-size="10.5" dy="-4.8">-1</tspan></text>
<text x="411.60" y="418.20" font-size="14.2" text-anchor="end">10<tspan font-size="10.5" dy="-4.8">-2</tspan></text>
<text transform="translate(385.20,112.10) rotate(-90)" font-size="20.3" text-anchor="middle">Permittivity</text>
<text transform="translate(385.3,56.8) rotate(-90)" font-size="24" font-weight="bold" font-family="Liberation Serif" font-style="italic">ε</text>
<line x1="367.00" y1="48.00" x2="369.80" y2="48.00" stroke="#222" stroke-width="1.0"/>
<text transform="translate(381.40,328.70) rotate(-90)" font-size="19.2" text-anchor="middle">Tan δ</text>
<text x="550.80" y="469.50" font-size="20.6" text-anchor="middle" >Temperature [°C]</text>
<text x="362.50" y="19.00" font-size="20" text-anchor="start" >b)</text>
<defs><circle id="ci" r="1.9" cx="0" cy="0"/>
<rect id="sq" x="-1.80" y="-1.80" width="3.61" height="3.61"/>
<path id="tu" d="M0,-2.18 L2.47,1.97 L-2.47,1.97Z"/>
<path id="td" d="M0,2.18 L2.47,-1.97 L-2.47,-1.97Z"/>
<path id="tl" d="M-2.18,0 L1.97,2.47 L1.97,-2.47Z"/>
<path id="tr" d="M2.18,0 L-1.97,2.47 L-1.97,-2.47Z"/>
<path id="di" d="M0,-2.56 L2.56,0 L0,2.56 L-2.56,0Z"/><clipPath id="cp1"><rect x="417.3" y="19.5" width="267.2" height="205.0"/></clipPath><clipPath id="cp2"><rect x="417.3" y="224.5" width="267.2" height="205.5"/></clipPath></defs>
<g clip-path="url(#cp1)">
<polyline fill="none" stroke="#646464" stroke-width="0.9" points="421.7,215.5 424.4,215.4 427.1,215.2 429.7,214.9 432.4,214.7 435.1,214.4 437.8,214.1 440.5,213.7 443.2,213.3 445.8,212.8 448.5,212.3 451.2,211.7 453.9,211.0 456.6,210.4 459.3,209.7 461.9,209.1 464.6,208.5 467.3,207.9 470.0,207.3 472.7,206.8 475.4,206.2 478.0,205.6 480.7,205.0 483.4,204.4 486.1,203.7 488.8,203.1 491.5,202.4 494.1,201.8 496.8,201.1 499.5,200.5 502.2,199.8 504.9,199.0 507.6,198.2 510.2,197.2 512.9,196.3 515.6,195.3 518.3,194.4 521.0,193.5 523.7,192.6 526.3,191.7 529.0,190.5 531.7,189.2 534.4,187.5 537.1,185.6 539.8,183.5 542.4,181.0 545.1,178.2 547.8,174.6 550.5,170.4 553.2,166.2 555.8,161.8 558.5,157.2 561.2,152.5 563.9,147.8 566.6,142.8 569.3,137.2 571.9,131.7 574.6,126.3 577.3,121.0 580.0,116.4 582.7,113.3 585.4,108.7 588.0,106.1 590.7,102.2 593.4,100.4 596.1,97.0 598.8,95.4 601.5,94.2 604.1,93.1 606.8,92.3 609.5,91.8 612.2,91.3 614.9,91.0 617.6,91.1 620.2,91.3 622.9,91.4 625.6,91.1 628.3,91.0 631.0,91.3 633.7,91.7 636.3,92.1 639.0,92.3 641.7,92.3 644.4,92.3 647.1,92.2 649.8,92.2 652.4,92.6 655.1,93.6 657.8,94.1 660.5,94.5 663.2,94.8 665.9,95.1 668.5,95.3 671.2,95.5 673.9,95.6 676.6,95.7 679.3,95.7"/>
<g stroke="#646464" fill="#fff" stroke-width="1.15">
<use href="#sq" x="421.7" y="215.5"/><use href="#sq" x="424.4" y="215.4"/><use href="#sq" x="427.1" y="215.2"/><use href="#sq" x="429.7" y="214.9"/><use href="#sq" x="432.4" y="214.7"/><use href="#sq" x="435.1" y="214.4"/><use href="#sq" x="437.8" y="214.1"/><use href="#sq" x="440.5" y="213.7"/><use href="#sq" x="443.2" y="213.3"/><use href="#sq" x="445.8" y="212.8"/><use href="#sq" x="448.5" y="212.3"/><use href="#sq" x="451.2" y="211.7"/><use href="#sq" x="453.9" y="211.0"/><use href="#sq" x="456.6" y="210.4"/><use href="#sq" x="459.3" y="209.7"/><use href="#sq" x="461.9" y="209.1"/><use href="#sq" x="464.6" y="208.5"/><use href="#sq" x="467.3" y="207.9"/><use href="#sq" x="470.0" y="207.3"/><use href="#sq" x="472.7" y="206.8"/><use href="#sq" x="475.4" y="206.2"/><use href="#sq" x="478.0" y="205.6"/><use href="#sq" x="480.7" y="205.0"/><use href="#sq" x="483.4" y="204.4"/><use href="#sq" x="486.1" y="203.7"/><use href="#sq" x="488.8" y="203.1"/><use href="#sq" x="491.5" y="202.4"/><use href="#sq" x="494.1" y="201.8"/><use href="#sq" x="496.8" y="201.1"/><use href="#sq" x="499.5" y="200.5"/><use href="#sq" x="502.2" y="199.8"/><use href="#sq" x="504.9" y="199.0"/><use href="#sq" x="507.6" y="198.2"/><use href="#sq" x="510.2" y="197.2"/><use href="#sq" x="512.9" y="196.3"/><use href="#sq" x="515.6" y="195.3"/><use href="#sq" x="518.3" y="194.4"/><use href="#sq" x="521.0" y="193.5"/><use href="#sq" x="523.7" y="192.6"/><use href="#sq" x="526.3" y="191.7"/><use href="#sq" x="529.0" y="190.5"/><use href="#sq" x="531.7" y="189.2"/><use href="#sq" x="534.4" y="187.5"/><use href="#sq" x="537.1" y="185.6"/><use href="#sq" x="539.8" y="183.5"/><use href="#sq" x="542.4" y="181.0"/><use href="#sq" x="545.1" y="178.2"/><use href="#sq" x="547.8" y="174.6"/><use href="#sq" x="550.5" y="170.4"/><use href="#sq" x="553.2" y="166.2"/><use href="#sq" x="555.8" y="161.8"/><use href="#sq" x="558.5" y="157.2"/><use href="#sq" x="561.2" y="152.5"/><use href="#sq" x="563.9" y="147.8"/><use href="#sq" x="566.6" y="142.8"/><use href="#sq" x="569.3" y="137.2"/><use href="#sq" x="571.9" y="131.7"/><use href="#sq" x="574.6" y="126.3"/><use href="#sq" x="577.3" y="121.0"/><use href="#sq" x="580.0" y="116.4"/><use href="#sq" x="582.7" y="113.3"/><use href="#sq" x="585.4" y="108.7"/><use href="#sq" x="588.0" y="106.1"/><use href="#sq" x="590.7" y="102.2"/><use href="#sq" x="593.4" y="100.4"/><use href="#sq" x="596.1" y="97.0"/><use href="#sq" x="598.8" y="95.4"/><use href="#sq" x="601.5" y="94.2"/><use href="#sq" x="604.1" y="93.1"/><use href="#sq" x="606.8" y="92.3"/><use href="#sq" x="609.5" y="91.8"/><use href="#sq" x="612.2" y="91.3"/><use href="#sq" x="614.9" y="91.0"/><use href="#sq" x="617.6" y="91.1"/><use href="#sq" x="620.2" y="91.3"/><use href="#sq" x="622.9" y="91.4"/><use href="#sq" x="625.6" y="91.1"/><use href="#sq" x="628.3" y="91.0"/><use href="#sq" x="631.0" y="91.3"/><use href="#sq" x="633.7" y="91.7"/><use href="#sq" x="636.3" y="92.1"/><use href="#sq" x="639.0" y="92.3"/><use href="#sq" x="641.7" y="92.3"/><use href="#sq" x="644.4" y="92.3"/><use href="#sq" x="647.1" y="92.2"/><use href="#sq" x="649.8" y="92.2"/><use href="#sq" x="652.4" y="92.6"/><use href="#sq" x="655.1" y="93.6"/><use href="#sq" x="657.8" y="94.1"/><use href="#sq" x="660.5" y="94.5"/><use href="#sq" x="663.2" y="94.8"/><use href="#sq" x="665.9" y="95.1"/><use href="#sq" x="668.5" y="95.3"/><use href="#sq" x="671.2" y="95.5"/><use href="#sq" x="673.9" y="95.6"/><use href="#sq" x="676.6" y="95.7"/><use href="#sq" x="679.3" y="95.7"/>
</g>
<polyline fill="none" stroke="#f04040" stroke-width="0.9" points="421.7,215.0 424.4,214.9 427.1,214.8 429.7,214.5 432.4,214.2 435.1,213.8 437.8,213.4 440.5,212.9 443.2,212.3 445.8,211.8 448.5,211.2 451.2,210.5 453.9,209.7 456.6,208.6 459.3,207.5 461.9,206.4 464.6,205.4 467.3,204.5 470.0,203.6 472.7,202.8 475.4,201.9 478.0,201.2 480.7,200.4 483.4,199.7 486.1,199.0 488.8,198.3 491.5,197.6 494.1,196.9 496.8,196.2 499.5,195.5 502.2,194.8 504.9,194.2 507.6,193.5 510.2,192.8 512.9,192.2 515.6,191.5 518.3,190.7 521.0,190.0 523.7,189.1 526.3,188.2 529.0,187.0 531.7,185.6 534.4,183.9 537.1,181.9 539.8,179.4 542.4,175.8 545.1,171.5 547.8,167.3 550.5,162.1 553.2,156.1 555.8,150.2 558.5,144.2 561.2,138.2 563.9,132.2 566.6,126.8 569.3,120.4 571.9,113.7 574.6,108.0 577.3,103.8 580.0,99.5 582.7,95.9 585.4,93.3 588.0,91.4 590.7,89.7 593.4,88.1 596.1,86.9 598.8,86.3 601.5,86.1 604.1,85.9 606.8,85.8 609.5,85.8 612.2,85.8 614.9,86.0 617.6,86.1 620.2,86.3 622.9,86.6 625.6,86.8 628.3,87.0 631.0,87.2 633.7,87.5 636.3,87.7 639.0,88.0 641.7,88.1 644.4,88.3 647.1,88.5 649.8,88.7 652.4,89.0 655.1,89.4 657.8,89.8 660.5,90.2 663.2,90.5 665.9,90.8 668.5,91.1 671.2,91.5 673.9,91.9 676.6,92.3 679.3,92.7"/>
<g stroke="#f04040" fill="#fff" stroke-width="1.15">
<use href="#ci" x="421.7" y="215.0"/><use href="#ci" x="424.4" y="214.9"/><use href="#ci" x="427.1" y="214.8"/><use href="#ci" x="429.7" y="214.5"/><use href="#ci" x="432.4" y="214.2"/><use href="#ci" x="435.1" y="213.8"/><use href="#ci" x="437.8" y="213.4"/><use href="#ci" x="440.5" y="212.9"/><use href="#ci" x="443.2" y="212.3"/><use href="#ci" x="445.8" y="211.8"/><use href="#ci" x="448.5" y="211.2"/><use href="#ci" x="451.2" y="210.5"/><use href="#ci" x="453.9" y="209.7"/><use href="#ci" x="456.6" y="208.6"/><use href="#ci" x="459.3" y="207.5"/><use href="#ci" x="461.9" y="206.4"/><use href="#ci" x="464.6" y="205.4"/><use href="#ci" x="467.3" y="204.5"/><use href="#ci" x="470.0" y="203.6"/><use href="#ci" x="472.7" y="202.8"/><use href="#ci" x="475.4" y="201.9"/><use href="#ci" x="478.0" y="201.2"/><use href="#ci" x="480.7" y="200.4"/><use href="#ci" x="483.4" y="199.7"/><use href="#ci" x="486.1" y="199.0"/><use href="#ci" x="488.8" y="198.3"/><use href="#ci" x="491.5" y="197.6"/><use href="#ci" x="494.1" y="196.9"/><use href="#ci" x="496.8" y="196.2"/><use href="#ci" x="499.5" y="195.5"/><use href="#ci" x="502.2" y="194.8"/><use href="#ci" x="504.9" y="194.2"/><use href="#ci" x="507.6" y="193.5"/><use href="#ci" x="510.2" y="192.8"/><use href="#ci" x="512.9" y="192.2"/><use href="#ci" x="515.6" y="191.5"/><use href="#ci" x="518.3" y="190.7"/><use href="#ci" x="521.0" y="190.0"/><use href="#ci" x="523.7" y="189.1"/><use href="#ci" x="526.3" y="188.2"/><use href="#ci" x="529.0" y="187.0"/><use href="#ci" x="531.7" y="185.6"/><use href="#ci" x="534.4" y="183.9"/><use href="#ci" x="537.1" y="181.9"/><use href="#ci" x="539.8" y="179.4"/><use href="#ci" x="542.4" y="175.8"/><use href="#ci" x="545.1" y="171.5"/><use href="#ci" x="547.8" y="167.3"/><use href="#ci" x="550.5" y="162.1"/><use href="#ci" x="553.2" y="156.1"/><use href="#ci" x="555.8" y="150.2"/><use href="#ci" x="558.5" y="144.2"/><use href="#ci" x="561.2" y="138.2"/><use href="#ci" x="563.9" y="132.2"/><use href="#ci" x="566.6" y="126.8"/><use href="#ci" x="569.3" y="120.4"/><use href="#ci" x="571.9" y="113.7"/><use href="#ci" x="574.6" y="108.0"/><use href="#ci" x="577.3" y="103.8"/><use href="#ci" x="580.0" y="99.5"/><use href="#ci" x="582.7" y="95.9"/><use href="#ci" x="585.4" y="93.3"/><use href="#ci" x="588.0" y="91.4"/><use href="#ci" x="590.7" y="89.7"/><use href="#ci" x="593.4" y="88.1"/><use href="#ci" x="596.1" y="86.9"/><use href="#ci" x="598.8" y="86.3"/><use href="#ci" x="601.5" y="86.1"/><use href="#ci" x="604.1" y="85.9"/><use href="#ci" x="606.8" y="85.8"/><use href="#ci" x="609.5" y="85.8"/><use href="#ci" x="612.2" y="85.8"/><use href="#ci" x="614.9" y="86.0"/><use href="#ci" x="617.6" y="86.1"/><use href="#ci" x="620.2" y="86.3"/><use href="#ci" x="622.9" y="86.6"/><use href="#ci" x="625.6" y="86.8"/><use href="#ci" x="628.3" y="87.0"/><use href="#ci" x="631.0" y="87.2"/><use href="#ci" x="633.7" y="87.5"/><use href="#ci" x="636.3" y="87.7"/><use href="#ci" x="639.0" y="88.0"/><use href="#ci" x="641.7" y="88.1"/><use href="#ci" x="644.4" y="88.3"/><use href="#ci" x="647.1" y="88.5"/><use href="#ci" x="649.8" y="88.7"/><use href="#ci" x="652.4" y="89.0"/><use href="#ci" x="655.1" y="89.4"/><use href="#ci" x="657.8" y="89.8"/><use href="#ci" x="660.5" y="90.2"/><use href="#ci" x="663.2" y="90.5"/><use href="#ci" x="665.9" y="90.8"/><use href="#ci" x="668.5" y="91.1"/><use href="#ci" x="671.2" y="91.5"/><use href="#ci" x="673.9" y="91.9"/><use href="#ci" x="676.6" y="92.3"/><use href="#ci" x="679.3" y="92.7"/>
</g>
<polyline fill="none" stroke="#1f6fd8" stroke-width="0.9" points="421.7,213.0 424.4,212.7 427.1,212.4 429.7,212.0 432.4,211.5 435.1,211.0 437.8,210.4 440.5,209.7 443.2,208.9 445.8,208.1 448.5,207.2 451.2,206.3 453.9,205.3 456.6,204.3 459.3,203.2 461.9,202.2 464.6,201.2 467.3,200.3 470.0,199.4 472.7,198.5 475.4,197.6 478.0,196.7 480.7,196.0 483.4,195.4 486.1,194.7 488.8,193.9 491.5,192.8 494.1,191.0 496.8,189.6 499.5,188.8 502.2,188.1 504.9,187.6 507.6,187.2 510.2,186.7 512.9,186.3 515.6,185.7 518.3,185.0 521.0,184.2 523.7,183.3 526.3,182.3 529.0,181.2 531.7,180.0 534.4,178.8 537.1,177.4 539.8,175.9 542.4,174.2 545.1,172.0 547.8,169.2 550.5,165.1 553.2,158.9 555.8,144.8 558.5,130.9 561.2,123.9 563.9,117.1 566.6,110.6 569.3,103.1 571.9,95.5 574.6,90.3 577.3,85.9 580.0,83.3 582.7,82.2 585.4,81.5 588.0,80.9 590.7,80.5 593.4,80.2 596.1,80.0 598.8,79.8 601.5,79.6 604.1,79.9 606.8,81.0 609.5,81.3 612.2,81.5 614.9,81.6 617.6,81.7 620.2,81.8 622.9,81.9 625.6,82.1 628.3,82.3 631.0,82.5 633.7,82.6 636.3,82.7 639.0,82.8 641.7,82.8 644.4,82.7 647.1,82.6 649.8,82.4 652.4,82.2 655.1,82.0 657.8,81.8 660.5,81.5 663.2,81.2 665.9,80.8 668.5,80.4 671.2,80.1 673.9,79.8 676.6,79.6 679.3,79.3"/>
<g stroke="#1f6fd8" fill="#fff" stroke-width="1.15">
<use href="#tu" x="421.7" y="213.0"/><use href="#tu" x="424.4" y="212.7"/><use href="#tu" x="427.1" y="212.4"/><use href="#tu" x="429.7" y="212.0"/><use href="#tu" x="432.4" y="211.5"/><use href="#tu" x="435.1" y="211.0"/><use href="#tu" x="437.8" y="210.4"/><use href="#tu" x="440.5" y="209.7"/><use href="#tu" x="443.2" y="208.9"/><use href="#tu" x="445.8" y="208.1"/><use href="#tu" x="448.5" y="207.2"/><use href="#tu" x="451.2" y="206.3"/><use href="#tu" x="453.9" y="205.3"/><use href="#tu" x="456.6" y="204.3"/><use href="#tu" x="459.3" y="203.2"/><use href="#tu" x="461.9" y="202.2"/><use href="#tu" x="464.6" y="201.2"/><use href="#tu" x="467.3" y="200.3"/><use href="#tu" x="470.0" y="199.4"/><use href="#tu" x="472.7" y="198.5"/><use href="#tu" x="475.4" y="197.6"/><use href="#tu" x="478.0" y="196.7"/><use href="#tu" x="480.7" y="196.0"/><use href="#tu" x="483.4" y="195.4"/><use href="#tu" x="486.1" y="194.7"/><use href="#tu" x="488.8" y="193.9"/><use href="#tu" x="491.5" y="192.8"/><use href="#tu" x="494.1" y="191.0"/><use href="#tu" x="496.8" y="189.6"/><use href="#tu" x="499.5" y="188.8"/><use href="#tu" x="502.2" y="188.1"/><use href="#tu" x="504.9" y="187.6"/><use href="#tu" x="507.6" y="187.2"/><use href="#tu" x="510.2" y="186.7"/><use href="#tu" x="512.9" y="186.3"/><use href="#tu" x="515.6" y="185.7"/><use href="#tu" x="518.3" y="185.0"/><use href="#tu" x="521.0" y="184.2"/><use href="#tu" x="523.7" y="183.3"/><use href="#tu" x="526.3" y="182.3"/><use href="#tu" x="529.0" y="181.2"/><use href="#tu" x="531.7" y="180.0"/><use href="#tu" x="534.4" y="178.8"/><use href="#tu" x="537.1" y="177.4"/><use href="#tu" x="539.8" y="175.9"/><use href="#tu" x="542.4" y="174.2"/><use href="#tu" x="545.1" y="172.0"/><use href="#tu" x="547.8" y="169.2"/><use href="#tu" x="550.5" y="165.1"/><use href="#tu" x="553.2" y="158.9"/><use href="#tu" x="555.8" y="144.8"/><use href="#tu" x="558.5" y="130.9"/><use href="#tu" x="561.2" y="123.9"/><use href="#tu" x="563.9" y="117.1"/><use href="#tu" x="566.6" y="110.6"/><use href="#tu" x="569.3" y="103.1"/><use href="#tu" x="571.9" y="95.5"/><use href="#tu" x="574.6" y="90.3"/><use href="#tu" x="577.3" y="85.9"/><use href="#tu" x="580.0" y="83.3"/><use href="#tu" x="582.7" y="82.2"/><use href="#tu" x="585.4" y="81.5"/><use href="#tu" x="588.0" y="80.9"/><use href="#tu" x="590.7" y="80.5"/><use href="#tu" x="593.4" y="80.2"/><use href="#tu" x="596.1" y="80.0"/><use href="#tu" x="598.8" y="79.8"/><use href="#tu" x="601.5" y="79.6"/><use href="#tu" x="604.1" y="79.9"/><use href="#tu" x="606.8" y="81.0"/><use href="#tu" x="609.5" y="81.3"/><use href="#tu" x="612.2" y="81.5"/><use href="#tu" x="614.9" y="81.6"/><use href="#tu" x="617.6" y="81.7"/><use href="#tu" x="620.2" y="81.8"/><use href="#tu" x="622.9" y="81.9"/><use href="#tu" x="625.6" y="82.1"/><use href="#tu" x="628.3" y="82.3"/><use href="#tu" x="631.0" y="82.5"/><use href="#tu" x="633.7" y="82.6"/><use href="#tu" x="636.3" y="82.7"/><use href="#tu" x="639.0" y="82.8"/><use href="#tu" x="641.7" y="82.8"/><use href="#tu" x="644.4" y="82.7"/><use href="#tu" x="647.1" y="82.6"/><use href="#tu" x="649.8" y="82.4"/><use href="#tu" x="652.4" y="82.2"/><use href="#tu" x="655.1" y="82.0"/><use href="#tu" x="657.8" y="81.8"/><use href="#tu" x="660.5" y="81.5"/><use href="#tu" x="663.2" y="81.2"/><use href="#tu" x="665.9" y="80.8"/><use href="#tu" x="668.5" y="80.4"/><use href="#tu" x="671.2" y="80.1"/><use href="#tu" x="673.9" y="79.8"/><use href="#tu" x="676.6" y="79.6"/><use href="#tu" x="679.3" y="79.3"/>
</g>
<polyline fill="none" stroke="#38a86a" stroke-width="0.9" points="421.7,210.3 424.4,209.9 427.1,209.4 429.7,208.9 432.4,208.2 435.1,207.6 437.8,206.9 440.5,206.0 443.2,205.1 445.8,204.1 448.5,203.1 451.2,202.1 453.9,201.1 456.6,200.1 459.3,199.1 461.9,198.1 464.6,197.1 467.3,196.2 470.0,195.3 472.7,194.4 475.4,193.5 478.0,192.8 480.7,192.1 483.4,191.5 486.1,190.9 488.8,190.2 491.5,189.4 494.1,187.9 496.8,186.7 499.5,186.0 502.2,185.5 504.9,185.1 507.6,184.7 510.2,184.3 512.9,183.9 515.6,183.4 518.3,182.7 521.0,181.9 523.7,181.0 526.3,179.9 529.0,178.7 531.7,177.3 534.4,175.9 537.1,174.4 539.8,172.9 542.4,171.1 545.1,168.7 547.8,164.7 550.5,157.7 553.2,146.2 555.8,131.3 558.5,117.9 561.2,109.0 563.9,100.2 566.6,93.3 569.3,85.7 571.9,80.9 574.6,78.3 577.3,76.9 580.0,75.9 582.7,75.4 585.4,75.1 588.0,74.8 590.7,74.7 593.4,74.7 596.1,74.8 598.8,75.0 601.5,75.3 604.1,75.8 606.8,76.7 609.5,76.6 612.2,76.4 614.9,76.2 617.6,75.8 620.2,74.8 622.9,73.2 625.6,71.6 628.3,70.4 631.0,69.5 633.7,68.7 636.3,68.0 639.0,67.3 641.7,66.7 644.4,66.2 647.1,65.6 649.8,65.1 652.4,64.4 655.1,63.5 657.8,62.6 660.5,61.5 663.2,60.5 665.9,59.5 668.5,58.5 671.2,57.4 673.9,56.1 676.6,54.5 679.3,52.5"/>
<g stroke="#38a86a" fill="#fff" stroke-width="1.15">
<use href="#td" x="421.7" y="210.3"/><use href="#td" x="424.4" y="209.9"/><use href="#td" x="427.1" y="209.4"/><use href="#td" x="429.7" y="208.9"/><use href="#td" x="432.4" y="208.2"/><use href="#td" x="435.1" y="207.6"/><use href="#td" x="437.8" y="206.9"/><use href="#td" x="440.5" y="206.0"/><use href="#td" x="443.2" y="205.1"/><use href="#td" x="445.8" y="204.1"/><use href="#td" x="448.5" y="203.1"/><use href="#td" x="451.2" y="202.1"/><use href="#td" x="453.9" y="201.1"/><use href="#td" x="456.6" y="200.1"/><use href="#td" x="459.3" y="199.1"/><use href="#td" x="461.9" y="198.1"/><use href="#td" x="464.6" y="197.1"/><use href="#td" x="467.3" y="196.2"/><use href="#td" x="470.0" y="195.3"/><use href="#td" x="472.7" y="194.4"/><use href="#td" x="475.4" y="193.5"/><use href="#td" x="478.0" y="192.8"/><use href="#td" x="480.7" y="192.1"/><use href="#td" x="483.4" y="191.5"/><use href="#td" x="486.1" y="190.9"/><use href="#td" x="488.8" y="190.2"/><use href="#td" x="491.5" y="189.4"/><use href="#td" x="494.1" y="187.9"/><use href="#td" x="496.8" y="186.7"/><use href="#td" x="499.5" y="186.0"/><use href="#td" x="502.2" y="185.5"/><use href="#td" x="504.9" y="185.1"/><use href="#td" x="507.6" y="184.7"/><use href="#td" x="510.2" y="184.3"/><use href="#td" x="512.9" y="183.9"/><use href="#td" x="515.6" y="183.4"/><use href="#td" x="518.3" y="182.7"/><use href="#td" x="521.0" y="181.9"/><use href="#td" x="523.7" y="181.0"/><use href="#td" x="526.3" y="179.9"/><use href="#td" x="529.0" y="178.7"/><use href="#td" x="531.7" y="177.3"/><use href="#td" x="534.4" y="175.9"/><use href="#td" x="537.1" y="174.4"/><use href="#td" x="539.8" y="172.9"/><use href="#td" x="542.4" y="171.1"/><use href="#td" x="545.1" y="168.7"/><use href="#td" x="547.8" y="164.7"/><use href="#td" x="550.5" y="157.7"/><use href="#td" x="553.2" y="146.2"/><use href="#td" x="555.8" y="131.3"/><use href="#td" x="558.5" y="117.9"/><use href="#td" x="561.2" y="109.0"/><use href="#td" x="563.9" y="100.2"/><use href="#td" x="566.6" y="93.3"/><use href="#td" x="569.3" y="85.7"/><use href="#td" x="571.9" y="80.9"/><use href="#td" x="574.6" y="78.3"/><use href="#td" x="577.3" y="76.9"/><use href="#td" x="580.0" y="75.9"/><use href="#td" x="582.7" y="75.4"/><use href="#td" x="585.4" y="75.1"/><use href="#td" x="588.0" y="74.8"/><use href="#td" x="590.7" y="74.7"/><use href="#td" x="593.4" y="74.7"/><use href="#td" x="596.1" y="74.8"/><use href="#td" x="598.8" y="75.0"/><use href="#td" x="601.5" y="75.3"/><use href="#td" x="604.1" y="75.8"/><use href="#td" x="606.8" y="76.7"/><use href="#td" x="609.5" y="76.6"/><use href="#td" x="612.2" y="76.4"/><use href="#td" x="614.9" y="76.2"/><use href="#td" x="617.6" y="75.8"/><use href="#td" x="620.2" y="74.8"/><use href="#td" x="622.9" y="73.2"/><use href="#td" x="625.6" y="71.6"/><use href="#td" x="628.3" y="70.4"/><use href="#td" x="631.0" y="69.5"/><use href="#td" x="633.7" y="68.7"/><use href="#td" x="636.3" y="68.0"/><use href="#td" x="639.0" y="67.3"/><use href="#td" x="641.7" y="66.7"/><use href="#td" x="644.4" y="66.2"/><use href="#td" x="647.1" y="65.6"/><use href="#td" x="649.8" y="65.1"/><use href="#td" x="652.4" y="64.4"/><use href="#td" x="655.1" y="63.5"/><use href="#td" x="657.8" y="62.6"/><use href="#td" x="660.5" y="61.5"/><use href="#td" x="663.2" y="60.5"/><use href="#td" x="665.9" y="59.5"/><use href="#td" x="668.5" y="58.5"/><use href="#td" x="671.2" y="57.4"/><use href="#td" x="673.9" y="56.1"/><use href="#td" x="676.6" y="54.5"/><use href="#td" x="679.3" y="52.5"/>
</g>
<polyline fill="none" stroke="#b070dd" stroke-width="0.9" points="421.7,208.0 424.4,207.5 427.1,206.9 429.7,206.2 432.4,205.5 435.1,204.7 437.8,203.9 440.5,202.9 443.2,201.9 445.8,200.8 448.5,199.7 451.2,198.7 453.9,197.5 456.6,196.3 459.3,195.2 461.9,194.1 464.6,193.2 467.3,192.3 470.0,191.5 472.7,190.7 475.4,190.0 478.0,189.3 480.7,188.6 483.4,187.9 486.1,187.3 488.8,186.6 491.5,185.9 494.1,185.1 496.8,184.5 499.5,183.9 502.2,183.4 504.9,183.0 507.6,182.6 510.2,182.1 512.9,181.7 515.6,181.1 518.3,180.4 521.0,179.7 523.7,178.7 526.3,177.7 529.0,176.5 531.7,175.1 534.4,173.6 537.1,171.9 539.8,169.8 542.4,167.2 545.1,163.9 547.8,158.5 550.5,149.5 553.2,126.6 555.8,114.5 558.5,98.9 561.2,91.5 563.9,83.6 566.6,80.5 569.3,77.5 571.9,74.7 574.6,72.6 577.3,71.1 580.0,70.0 582.7,69.4 585.4,69.0 588.0,68.6 590.7,68.1 593.4,67.3 596.1,66.4 598.8,65.4 601.5,64.3 604.1,63.1 606.8,61.8 609.5,60.7 612.2,59.5 614.9,58.0 617.6,56.2 620.2,53.8 622.9,51.0 625.6,47.7 628.3,43.4 631.0,37.7 633.7,31.4 636.3,25.2 639.0,18.9"/>
<g stroke="#b070dd" fill="#fff" stroke-width="1.15">
<use href="#di" x="421.7" y="208.0"/><use href="#di" x="424.4" y="207.5"/><use href="#di" x="427.1" y="206.9"/><use href="#di" x="429.7" y="206.2"/><use href="#di" x="432.4" y="205.5"/><use href="#di" x="435.1" y="204.7"/><use href="#di" x="437.8" y="203.9"/><use href="#di" x="440.5" y="202.9"/><use href="#di" x="443.2" y="201.9"/><use href="#di" x="445.8" y="200.8"/><use href="#di" x="448.5" y="199.7"/><use href="#di" x="451.2" y="198.7"/><use href="#di" x="453.9" y="197.5"/><use href="#di" x="456.6" y="196.3"/><use href="#di" x="459.3" y="195.2"/><use href="#di" x="461.9" y="194.1"/><use href="#di" x="464.6" y="193.2"/><use href="#di" x="467.3" y="192.3"/><use href="#di" x="470.0" y="191.5"/><use href="#di" x="472.7" y="190.7"/><use href="#di" x="475.4" y="190.0"/><use href="#di" x="478.0" y="189.3"/><use href="#di" x="480.7" y="188.6"/><use href="#di" x="483.4" y="187.9"/><use href="#di" x="486.1" y="187.3"/><use href="#di" x="488.8" y="186.6"/><use href="#di" x="491.5" y="185.9"/><use href="#di" x="494.1" y="185.1"/><use href="#di" x="496.8" y="184.5"/><use href="#di" x="499.5" y="183.9"/><use href="#di" x="502.2" y="183.4"/><use href="#di" x="504.9" y="183.0"/><use href="#di" x="507.6" y="182.6"/><use href="#di" x="510.2" y="182.1"/><use href="#di" x="512.9" y="181.7"/><use href="#di" x="515.6" y="181.1"/><use href="#di" x="518.3" y="180.4"/><use href="#di" x="521.0" y="179.7"/><use href="#di" x="523.7" y="178.7"/><use href="#di" x="526.3" y="177.7"/><use href="#di" x="529.0" y="176.5"/><use href="#di" x="531.7" y="175.1"/><use href="#di" x="534.4" y="173.6"/><use href="#di" x="537.1" y="171.9"/><use href="#di" x="539.8" y="169.8"/><use href="#di" x="542.4" y="167.2"/><use href="#di" x="545.1" y="163.9"/><use href="#di" x="547.8" y="158.5"/><use href="#di" x="550.5" y="149.5"/><use href="#di" x="553.2" y="126.6"/><use href="#di" x="555.8" y="114.5"/><use href="#di" x="558.5" y="98.9"/><use href="#di" x="561.2" y="91.5"/><use href="#di" x="563.9" y="83.6"/><use href="#di" x="566.6" y="80.5"/><use href="#di" x="569.3" y="77.5"/><use href="#di" x="571.9" y="74.7"/><use href="#di" x="574.6" y="72.6"/><use href="#di" x="577.3" y="71.1"/><use href="#di" x="580.0" y="70.0"/><use href="#di" x="582.7" y="69.4"/><use href="#di" x="585.4" y="69.0"/><use href="#di" x="588.0" y="68.6"/><use href="#di" x="590.7" y="68.1"/><use href="#di" x="593.4" y="67.3"/><use href="#di" x="596.1" y="66.4"/><use href="#di" x="598.8" y="65.4"/><use href="#di" x="601.5" y="64.3"/><use href="#di" x="604.1" y="63.1"/><use href="#di" x="606.8" y="61.8"/><use href="#di" x="609.5" y="60.7"/><use href="#di" x="612.2" y="59.5"/><use href="#di" x="614.9" y="58.0"/><use href="#di" x="617.6" y="56.2"/><use href="#di" x="620.2" y="53.8"/><use href="#di" x="622.9" y="51.0"/><use href="#di" x="625.6" y="47.7"/><use href="#di" x="628.3" y="43.4"/><use href="#di" x="631.0" y="37.7"/><use href="#di" x="633.7" y="31.4"/><use href="#di" x="636.3" y="25.2"/><use href="#di" x="639.0" y="18.9"/>
</g>
<polyline fill="none" stroke="#cc9500" stroke-width="0.9" points="421.7,205.7 424.4,205.0 427.1,204.3 429.7,203.5 432.4,202.7 435.1,201.8 437.8,200.9 440.5,199.8 443.2,198.6 445.8,197.4 448.5,196.3 451.2,195.1 453.9,194.0 456.6,192.8 459.3,191.6 461.9,190.6 464.6,189.6 467.3,188.8 470.0,187.9 472.7,187.2 475.4,186.5 478.0,185.8 480.7,185.2 483.4,184.6 486.1,184.1 488.8,183.5 491.5,183.0 494.1,182.6 496.8,182.1 499.5,181.6 502.2,181.2 504.9,180.8 507.6,180.4 510.2,179.9 512.9,179.4 515.6,178.8 518.3,178.2 521.0,177.4 523.7,176.4 526.3,175.3 529.0,174.0 531.7,172.6 534.4,171.0 537.1,169.1 539.8,166.7 542.4,163.3 545.1,157.6 547.8,140.9 550.5,129.5 553.2,107.4 555.8,89.9 558.5,80.4 561.2,74.6 563.9,71.7 566.6,69.7 569.3,68.0 571.9,66.4 574.6,64.8 577.3,63.3 580.0,61.7 582.7,60.0 585.4,57.8 588.0,55.2 590.7,52.0 593.4,48.1 596.1,43.4 598.8,37.9 601.5,31.1 604.1,22.4"/>
<g stroke="#cc9500" fill="#fff" stroke-width="1.15">
<use href="#tl" x="421.7" y="205.7"/><use href="#tl" x="424.4" y="205.0"/><use href="#tl" x="427.1" y="204.3"/><use href="#tl" x="429.7" y="203.5"/><use href="#tl" x="432.4" y="202.7"/><use href="#tl" x="435.1" y="201.8"/><use href="#tl" x="437.8" y="200.9"/><use href="#tl" x="440.5" y="199.8"/><use href="#tl" x="443.2" y="198.6"/><use href="#tl" x="445.8" y="197.4"/><use href="#tl" x="448.5" y="196.3"/><use href="#tl" x="451.2" y="195.1"/><use href="#tl" x="453.9" y="194.0"/><use href="#tl" x="456.6" y="192.8"/><use href="#tl" x="459.3" y="191.6"/><use href="#tl" x="461.9" y="190.6"/><use href="#tl" x="464.6" y="189.6"/><use href="#tl" x="467.3" y="188.8"/><use href="#tl" x="470.0" y="187.9"/><use href="#tl" x="472.7" y="187.2"/><use href="#tl" x="475.4" y="186.5"/><use href="#tl" x="478.0" y="185.8"/><use href="#tl" x="480.7" y="185.2"/><use href="#tl" x="483.4" y="184.6"/><use href="#tl" x="486.1" y="184.1"/><use href="#tl" x="488.8" y="183.5"/><use href="#tl" x="491.5" y="183.0"/><use href="#tl" x="494.1" y="182.6"/><use href="#tl" x="496.8" y="182.1"/><use href="#tl" x="499.5" y="181.6"/><use href="#tl" x="502.2" y="181.2"/><use href="#tl" x="504.9" y="180.8"/><use href="#tl" x="507.6" y="180.4"/><use href="#tl" x="510.2" y="179.9"/><use href="#tl" x="512.9" y="179.4"/><use href="#tl" x="515.6" y="178.8"/><use href="#tl" x="518.3" y="178.2"/><use href="#tl" x="521.0" y="177.4"/><use href="#tl" x="523.7" y="176.4"/><use href="#tl" x="526.3" y="175.3"/><use href="#tl" x="529.0" y="174.0"/><use href="#tl" x="531.7" y="172.6"/><use href="#tl" x="534.4" y="171.0"/><use href="#tl" x="537.1" y="169.1"/><use href="#tl" x="539.8" y="166.7"/><use href="#tl" x="542.4" y="163.3"/><use href="#tl" x="545.1" y="157.6"/><use href="#tl" x="547.8" y="140.9"/><use href="#tl" x="550.5" y="129.5"/><use href="#tl" x="553.2" y="107.4"/><use href="#tl" x="555.8" y="89.9"/><use href="#tl" x="558.5" y="80.4"/><use href="#tl" x="561.2" y="74.6"/><use href="#tl" x="563.9" y="71.7"/><use href="#tl" x="566.6" y="69.7"/><use href="#tl" x="569.3" y="68.0"/><use href="#tl" x="571.9" y="66.4"/><use href="#tl" x="574.6" y="64.8"/><use href="#tl" x="577.3" y="63.3"/><use href="#tl" x="580.0" y="61.7"/><use href="#tl" x="582.7" y="60.0"/><use href="#tl" x="585.4" y="57.8"/><use href="#tl" x="588.0" y="55.2"/><use href="#tl" x="590.7" y="52.0"/><use href="#tl" x="593.4" y="48.1"/><use href="#tl" x="596.1" y="43.4"/><use href="#tl" x="598.8" y="37.9"/><use href="#tl" x="601.5" y="31.1"/><use href="#tl" x="604.1" y="22.4"/>
</g>
<polyline fill="none" stroke="#00c8c8" stroke-width="0.9" points="421.7,204.0 424.4,203.1 427.1,202.1 429.7,201.1 432.4,200.0 435.1,199.0 437.8,197.8 440.5,196.6 443.2,195.3 445.8,194.0 448.5,192.8 451.2,191.6 453.9,190.4 456.6,189.2 459.3,188.1 461.9,187.2 464.6,186.5 467.3,185.9 470.0,185.4 472.7,184.9 475.4,184.5 478.0,184.1 480.7,183.7 483.4,183.3 486.1,182.9 488.8,182.6 491.5,182.4 494.1,182.2 496.8,182.1 499.5,182.0 502.2,181.8 504.9,181.6 507.6,181.1 510.2,180.1 512.9,178.8 515.6,177.4 518.3,176.1 521.0,174.9 523.7,173.7 526.3,172.4 529.0,171.1 531.7,169.7 534.4,168.3 537.1,166.5 539.8,164.1 542.4,160.0 545.1,151.3 547.8,130.3 550.5,105.6 553.2,80.5 555.8,74.5 558.5,70.9 561.2,67.2 563.9,63.4 566.6,59.2 569.3,54.6 571.9,49.4 574.6,48.1 577.3,42.9 580.0,35.0 582.7,20.9"/>
<g stroke="#00c8c8" fill="#fff" stroke-width="1.15">
<use href="#tr" x="421.7" y="204.0"/><use href="#tr" x="424.4" y="203.1"/><use href="#tr" x="427.1" y="202.1"/><use href="#tr" x="429.7" y="201.1"/><use href="#tr" x="432.4" y="200.0"/><use href="#tr" x="435.1" y="199.0"/><use href="#tr" x="437.8" y="197.8"/><use href="#tr" x="440.5" y="196.6"/><use href="#tr" x="443.2" y="195.3"/><use href="#tr" x="445.8" y="194.0"/><use href="#tr" x="448.5" y="192.8"/><use href="#tr" x="451.2" y="191.6"/><use href="#tr" x="453.9" y="190.4"/><use href="#tr" x="456.6" y="189.2"/><use href="#tr" x="459.3" y="188.1"/><use href="#tr" x="461.9" y="187.2"/><use href="#tr" x="464.6" y="186.5"/><use href="#tr" x="467.3" y="185.9"/><use href="#tr" x="470.0" y="185.4"/><use href="#tr" x="472.7" y="184.9"/><use href="#tr" x="475.4" y="184.5"/><use href="#tr" x="478.0" y="184.1"/><use href="#tr" x="480.7" y="183.7"/><use href="#tr" x="483.4" y="183.3"/><use href="#tr" x="486.1" y="182.9"/><use href="#tr" x="488.8" y="182.6"/><use href="#tr" x="491.5" y="182.4"/><use href="#tr" x="494.1" y="182.2"/><use href="#tr" x="496.8" y="182.1"/><use href="#tr" x="499.5" y="182.0"/><use href="#tr" x="502.2" y="181.8"/><use href="#tr" x="504.9" y="181.6"/><use href="#tr" x="507.6" y="181.1"/><use href="#tr" x="510.2" y="180.1"/><use href="#tr" x="512.9" y="178.8"/><use href="#tr" x="515.6" y="177.4"/><use href="#tr" x="518.3" y="176.1"/><use href="#tr" x="521.0" y="174.9"/><use href="#tr" x="523.7" y="173.7"/><use href="#tr" x="526.3" y="172.4"/><use href="#tr" x="529.0" y="171.1"/><use href="#tr" x="531.7" y="169.7"/><use href="#tr" x="534.4" y="168.3"/><use href="#tr" x="537.1" y="166.5"/><use href="#tr" x="539.8" y="164.1"/><use href="#tr" x="542.4" y="160.0"/><use href="#tr" x="545.1" y="151.3"/><use href="#tr" x="547.8" y="130.3"/><use href="#tr" x="550.5" y="105.6"/><use href="#tr" x="553.2" y="80.5"/><use href="#tr" x="555.8" y="74.5"/><use href="#tr" x="558.5" y="70.9"/><use href="#tr" x="561.2" y="67.2"/><use href="#tr" x="563.9" y="63.4"/><use href="#tr" x="566.6" y="59.2"/><use href="#tr" x="569.3" y="54.6"/><use href="#tr" x="571.9" y="49.4"/><use href="#tr" x="574.6" y="48.1"/><use href="#tr" x="577.3" y="42.9"/><use href="#tr" x="580.0" y="35.0"/><use href="#tr" x="582.7" y="20.9"/>
</g>
<polyline fill="none" stroke="#7a4848" stroke-width="0.9" points="421.7,199.9 424.4,198.6 427.1,197.3 429.7,195.9 432.4,194.6 435.1,193.2 437.8,191.6 440.5,190.0 443.2,188.6 445.8,187.4 448.5,186.3 451.2,185.4 453.9,184.5 456.6,183.6 459.3,182.7 461.9,181.8 464.6,181.0 467.3,180.3 470.0,179.7 472.7,179.2 475.4,178.8 478.0,178.3 480.7,177.8 483.4,177.4 486.1,177.4 488.8,177.4 491.5,177.4 494.1,177.5 496.8,177.6 499.5,177.2 502.2,176.5 504.9,175.8 507.6,175.1 510.2,174.5 512.9,173.8 515.6,173.1 518.3,172.3 521.0,171.4 523.7,170.3 526.3,169.0 529.0,167.4 531.7,165.5 534.4,163.3 537.1,160.5 539.8,154.5 542.4,142.3 545.1,123.8 547.8,98.3 550.5,78.3 553.2,71.5 555.8,63.9 558.5,55.9 561.2,47.3 563.9,42.9 566.6,31.2 569.3,10.7"/>
<g stroke="#7a4848" fill="#fff" stroke-width="1.15">
<use href="#ci" x="421.7" y="199.9"/><use href="#ci" x="424.4" y="198.6"/><use href="#ci" x="427.1" y="197.3"/><use href="#ci" x="429.7" y="195.9"/><use href="#ci" x="432.4" y="194.6"/><use href="#ci" x="435.1" y="193.2"/><use href="#ci" x="437.8" y="191.6"/><use href="#ci" x="440.5" y="190.0"/><use href="#ci" x="443.2" y="188.6"/><use href="#ci" x="445.8" y="187.4"/><use href="#ci" x="448.5" y="186.3"/><use href="#ci" x="451.2" y="185.4"/><use href="#ci" x="453.9" y="184.5"/><use href="#ci" x="456.6" y="183.6"/><use href="#ci" x="459.3" y="182.7"/><use href="#ci" x="461.9" y="181.8"/><use href="#ci" x="464.6" y="181.0"/><use href="#ci" x="467.3" y="180.3"/><use href="#ci" x="470.0" y="179.7"/><use href="#ci" x="472.7" y="179.2"/><use href="#ci" x="475.4" y="178.8"/><use href="#ci" x="478.0" y="178.3"/><use href="#ci" x="480.7" y="177.8"/><use href="#ci" x="483.4" y="177.4"/><use href="#ci" x="486.1" y="177.4"/><use href="#ci" x="488.8" y="177.4"/><use href="#ci" x="491.5" y="177.4"/><use href="#ci" x="494.1" y="177.5"/><use href="#ci" x="496.8" y="177.6"/><use href="#ci" x="499.5" y="177.2"/><use href="#ci" x="502.2" y="176.5"/><use href="#ci" x="504.9" y="175.8"/><use href="#ci" x="507.6" y="175.1"/><use href="#ci" x="510.2" y="174.5"/><use href="#ci" x="512.9" y="173.8"/><use href="#ci" x="515.6" y="173.1"/><use href="#ci" x="518.3" y="172.3"/><use href="#ci" x="521.0" y="171.4"/><use href="#ci" x="523.7" y="170.3"/><use href="#ci" x="526.3" y="169.0"/><use href="#ci" x="529.0" y="167.4"/><use href="#ci" x="531.7" y="165.5"/><use href="#ci" x="534.4" y="163.3"/><use href="#ci" x="537.1" y="160.5"/><use href="#ci" x="539.8" y="154.5"/><use href="#ci" x="542.4" y="142.3"/><use href="#ci" x="545.1" y="123.8"/><use href="#ci" x="547.8" y="98.3"/><use href="#ci" x="550.5" y="78.3"/><use href="#ci" x="553.2" y="71.5"/><use href="#ci" x="555.8" y="63.9"/><use href="#ci" x="558.5" y="55.9"/><use href="#ci" x="561.2" y="47.3"/><use href="#ci" x="563.9" y="42.9"/><use href="#ci" x="566.6" y="31.2"/><use href="#ci" x="569.3" y="10.7"/>
</g>
</g>
<g clip-path="url(#cp2)">
<polyline fill="none" stroke="#646464" stroke-width="0.9" points="421.7,411.6 424.4,410.3 427.1,409.0 429.7,407.7 432.4,406.5 435.1,405.2 437.8,404.0 440.5,402.9 443.2,401.7 445.8,400.5 448.5,399.3 451.2,398.1 453.9,396.7 456.6,395.2 459.3,393.6 461.9,392.3 464.6,391.0 467.3,389.8 470.0,388.5 472.7,387.1 475.4,385.6 478.0,384.2 480.7,382.8 483.4,381.6 486.1,380.3 488.8,379.1 491.5,378.0 494.1,376.8 496.8,375.7 499.5,374.4 502.2,373.2 504.9,372.4 507.6,371.8 510.2,371.4 512.9,370.9 515.6,370.5 518.3,370.1 521.0,369.7 523.7,369.4 526.3,369.0 529.0,368.5 531.7,368.0 534.4,367.5 537.1,366.7 539.8,365.6 542.4,364.0 545.1,362.1 547.8,360.1 550.5,358.1 553.2,355.7 555.8,353.5 558.5,351.7 561.2,350.1 563.9,348.7 566.6,347.7 569.3,346.9 571.9,346.2 574.6,346.0 577.3,346.2 580.0,346.6 582.7,347.1 585.4,347.9 588.0,348.9 590.7,349.6 593.4,350.2 596.1,351.0 598.8,352.8 601.5,355.0 604.1,357.3 606.8,359.8 609.5,362.6 612.2,365.3 614.9,367.4 617.6,369.3 620.2,371.3 622.9,373.4 625.6,375.2 628.3,376.2 631.0,377.0 633.7,377.5 636.3,378.0 639.0,378.4 641.7,378.5 644.4,378.2 647.1,377.7 649.8,377.3 652.4,376.9 655.1,376.5 657.8,376.1 660.5,375.8 663.2,375.4 665.9,374.8 668.5,374.2 671.2,373.7 673.9,373.1 676.6,372.6 679.3,372.2"/>
<g stroke="#646464" fill="#fff" stroke-width="1.15">
<use href="#sq" x="421.7" y="411.6"/><use href="#sq" x="424.4" y="410.3"/><use href="#sq" x="427.1" y="409.0"/><use href="#sq" x="429.7" y="407.7"/><use href="#sq" x="432.4" y="406.5"/><use href="#sq" x="435.1" y="405.2"/><use href="#sq" x="437.8" y="404.0"/><use href="#sq" x="440.5" y="402.9"/><use href="#sq" x="443.2" y="401.7"/><use href="#sq" x="445.8" y="400.5"/><use href="#sq" x="448.5" y="399.3"/><use href="#sq" x="451.2" y="398.1"/><use href="#sq" x="453.9" y="396.7"/><use href="#sq" x="456.6" y="395.2"/><use href="#sq" x="459.3" y="393.6"/><use href="#sq" x="461.9" y="392.3"/><use href="#sq" x="464.6" y="391.0"/><use href="#sq" x="467.3" y="389.8"/><use href="#sq" x="470.0" y="388.5"/><use href="#sq" x="472.7" y="387.1"/><use href="#sq" x="475.4" y="385.6"/><use href="#sq" x="478.0" y="384.2"/><use href="#sq" x="480.7" y="382.8"/><use href="#sq" x="483.4" y="381.6"/><use href="#sq" x="486.1" y="380.3"/><use href="#sq" x="488.8" y="379.1"/><use href="#sq" x="491.5" y="378.0"/><use href="#sq" x="494.1" y="376.8"/><use href="#sq" x="496.8" y="375.7"/><use href="#sq" x="499.5" y="374.4"/><use href="#sq" x="502.2" y="373.2"/><use href="#sq" x="504.9" y="372.4"/><use href="#sq" x="507.6" y="371.8"/><use href="#sq" x="510.2" y="371.4"/><use href="#sq" x="512.9" y="370.9"/><use href="#sq" x="515.6" y="370.5"/><use href="#sq" x="518.3" y="370.1"/><use href="#sq" x="521.0" y="369.7"/><use href="#sq" x="523.7" y="369.4"/><use href="#sq" x="526.3" y="369.0"/><use href="#sq" x="529.0" y="368.5"/><use href="#sq" x="531.7" y="368.0"/><use href="#sq" x="534.4" y="367.5"/><use href="#sq" x="537.1" y="366.7"/><use href="#sq" x="539.8" y="365.6"/><use href="#sq" x="542.4" y="364.0"/><use href="#sq" x="545.1" y="362.1"/><use href="#sq" x="547.8" y="360.1"/><use href="#sq" x="550.5" y="358.1"/><use href="#sq" x="553.2" y="355.7"/><use href="#sq" x="555.8" y="353.5"/><use href="#sq" x="558.5" y="351.7"/><use href="#sq" x="561.2" y="350.1"/><use href="#sq" x="563.9" y="348.7"/><use href="#sq" x="566.6" y="347.7"/><use href="#sq" x="569.3" y="346.9"/><use href="#sq" x="571.9" y="346.2"/><use href="#sq" x="574.6" y="346.0"/><use href="#sq" x="577.3" y="346.2"/><use href="#sq" x="580.0" y="346.6"/><use href="#sq" x="582.7" y="347.1"/><use href="#sq" x="585.4" y="347.9"/><use href="#sq" x="588.0" y="348.9"/><use href="#sq" x="590.7" y="349.6"/><use href="#sq" x="593.4" y="350.2"/><use href="#sq" x="596.1" y="351.0"/><use href="#sq" x="598.8" y="352.8"/><use href="#sq" x="601.5" y="355.0"/><use href="#sq" x="604.1" y="357.3"/><use href="#sq" x="606.8" y="359.8"/><use href="#sq" x="609.5" y="362.6"/><use href="#sq" x="612.2" y="365.3"/><use href="#sq" x="614.9" y="367.4"/><use href="#sq" x="617.6" y="369.3"/><use href="#sq" x="620.2" y="371.3"/><use href="#sq" x="622.9" y="373.4"/><use href="#sq" x="625.6" y="375.2"/><use href="#sq" x="628.3" y="376.2"/><use href="#sq" x="631.0" y="377.0"/><use href="#sq" x="633.7" y="377.5"/><use href="#sq" x="636.3" y="378.0"/><use href="#sq" x="639.0" y="378.4"/><use href="#sq" x="641.7" y="378.5"/><use href="#sq" x="644.4" y="378.2"/><use href="#sq" x="647.1" y="377.7"/><use href="#sq" x="649.8" y="377.3"/><use href="#sq" x="652.4" y="376.9"/><use href="#sq" x="655.1" y="376.5"/><use href="#sq" x="657.8" y="376.1"/><use href="#sq" x="660.5" y="375.8"/><use href="#sq" x="663.2" y="375.4"/><use href="#sq" x="665.9" y="374.8"/><use href="#sq" x="668.5" y="374.2"/><use href="#sq" x="671.2" y="373.7"/><use href="#sq" x="673.9" y="373.1"/><use href="#sq" x="676.6" y="372.6"/><use href="#sq" x="679.3" y="372.2"/>
</g>
<polyline fill="none" stroke="#f04040" stroke-width="0.9" points="421.7,407.4 424.4,406.3 427.1,405.1 429.7,403.9 432.4,402.8 435.1,401.6 437.8,400.4 440.5,399.2 443.2,398.0 445.8,396.6 448.5,395.3 451.2,393.9 453.9,392.6 456.6,391.3 459.3,390.2 461.9,389.0 464.6,387.8 467.3,386.5 470.0,385.1 472.7,383.7 475.4,382.4 478.0,381.0 480.7,379.7 483.4,378.6 486.1,377.7 488.8,377.0 491.5,376.5 494.1,376.2 496.8,375.9 499.5,375.8 502.2,375.6 504.9,375.5 507.6,375.5 510.2,375.5 512.9,375.5 515.6,375.5 518.3,375.5 521.0,375.5 523.7,375.6 526.3,375.7 529.0,375.9 531.7,376.1 534.4,376.2 537.1,376.1 539.8,375.8 542.4,375.2 545.1,373.3 547.8,370.3 550.5,367.5 553.2,364.8 555.8,362.0 558.5,359.3 561.2,356.9 563.9,354.5 566.6,352.3 569.3,351.1 571.9,350.9 574.6,350.8 577.3,350.8 580.0,351.8 582.7,353.2 585.4,355.1 588.0,357.2 590.7,359.9 593.4,363.4 596.1,366.9 598.8,370.4 601.5,372.6 604.1,374.0 606.8,374.8 609.5,375.3 612.2,375.4 614.9,374.9 617.6,374.1 620.2,373.3 622.9,372.4 625.6,371.3 628.3,370.3 631.0,369.2 633.7,367.9 636.3,366.1 639.0,364.2 641.7,362.4 644.4,360.7 647.1,359.0 649.8,357.3 652.4,355.6 655.1,353.8 657.8,352.1 660.5,350.4 663.2,348.6 665.9,346.8 668.5,344.9 671.2,343.0 673.9,341.1 676.6,339.4 679.3,337.7"/>
<g stroke="#f04040" fill="#fff" stroke-width="1.15">
<use href="#ci" x="421.7" y="407.4"/><use href="#ci" x="424.4" y="406.3"/><use href="#ci" x="427.1" y="405.1"/><use href="#ci" x="429.7" y="403.9"/><use href="#ci" x="432.4" y="402.8"/><use href="#ci" x="435.1" y="401.6"/><use href="#ci" x="437.8" y="400.4"/><use href="#ci" x="440.5" y="399.2"/><use href="#ci" x="443.2" y="398.0"/><use href="#ci" x="445.8" y="396.6"/><use href="#ci" x="448.5" y="395.3"/><use href="#ci" x="451.2" y="393.9"/><use href="#ci" x="453.9" y="392.6"/><use href="#ci" x="456.6" y="391.3"/><use href="#ci" x="459.3" y="390.2"/><use href="#ci" x="461.9" y="389.0"/><use href="#ci" x="464.6" y="387.8"/><use href="#ci" x="467.3" y="386.5"/><use href="#ci" x="470.0" y="385.1"/><use href="#ci" x="472.7" y="383.7"/><use href="#ci" x="475.4" y="382.4"/><use href="#ci" x="478.0" y="381.0"/><use href="#ci" x="480.7" y="379.7"/><use href="#ci" x="483.4" y="378.6"/><use href="#ci" x="486.1" y="377.7"/><use href="#ci" x="488.8" y="377.0"/><use href="#ci" x="491.5" y="376.5"/><use href="#ci" x="494.1" y="376.2"/><use href="#ci" x="496.8" y="375.9"/><use href="#ci" x="499.5" y="375.8"/><use href="#ci" x="502.2" y="375.6"/><use href="#ci" x="504.9" y="375.5"/><use href="#ci" x="507.6" y="375.5"/><use href="#ci" x="510.2" y="375.5"/><use href="#ci" x="512.9" y="375.5"/><use href="#ci" x="515.6" y="375.5"/><use href="#ci" x="518.3" y="375.5"/><use href="#ci" x="521.0" y="375.5"/><use href="#ci" x="523.7" y="375.6"/><use href="#ci" x="526.3" y="375.7"/><use href="#ci" x="529.0" y="375.9"/><use href="#ci" x="531.7" y="376.1"/><use href="#ci" x="534.4" y="376.2"/><use href="#ci" x="537.1" y="376.1"/><use href="#ci" x="539.8" y="375.8"/><use href="#ci" x="542.4" y="375.2"/><use href="#ci" x="545.1" y="373.3"/><use href="#ci" x="547.8" y="370.3"/><use href="#ci" x="550.5" y="367.5"/><use href="#ci" x="553.2" y="364.8"/><use href="#ci" x="555.8" y="362.0"/><use href="#ci" x="558.5" y="359.3"/><use href="#ci" x="561.2" y="356.9"/><use href="#ci" x="563.9" y="354.5"/><use href="#ci" x="566.6" y="352.3"/><use href="#ci" x="569.3" y="351.1"/><use href="#ci" x="571.9" y="350.9"/><use href="#ci" x="574.6" y="350.8"/><use href="#ci" x="577.3" y="350.8"/><use href="#ci" x="580.0" y="351.8"/><use href="#ci" x="582.7" y="353.2"/><use href="#ci" x="585.4" y="355.1"/><use href="#ci" x="588.0" y="357.2"/><use href="#ci" x="590.7" y="359.9"/><use href="#ci" x="593.4" y="363.4"/><use href="#ci" x="596.1" y="366.9"/><use href="#ci" x="598.8" y="370.4"/><use href="#ci" x="601.5" y="372.6"/><use href="#ci" x="604.1" y="374.0"/><use href="#ci" x="606.8" y="374.8"/><use href="#ci" x="609.5" y="375.3"/><use href="#ci" x="612.2" y="375.4"/><use href="#ci" x="614.9" y="374.9"/><use href="#ci" x="617.6" y="374.1"/><use href="#ci" x="620.2" y="373.3"/><use href="#ci" x="622.9" y="372.4"/><use href="#ci" x="625.6" y="371.3"/><use href="#ci" x="628.3" y="370.3"/><use href="#ci" x="631.0" y="369.2"/><use href="#ci" x="633.7" y="367.9"/><use href="#ci" x="636.3" y="366.1"/><use href="#ci" x="639.0" y="364.2"/><use href="#ci" x="641.7" y="362.4"/><use href="#ci" x="644.4" y="360.7"/><use href="#ci" x="647.1" y="359.0"/><use href="#ci" x="649.8" y="357.3"/><use href="#ci" x="652.4" y="355.6"/><use href="#ci" x="655.1" y="353.8"/><use href="#ci" x="657.8" y="352.1"/><use href="#ci" x="660.5" y="350.4"/><use href="#ci" x="663.2" y="348.6"/><use href="#ci" x="665.9" y="346.8"/><use href="#ci" x="668.5" y="344.9"/><use href="#ci" x="671.2" y="343.0"/><use href="#ci" x="673.9" y="341.1"/><use href="#ci" x="676.6" y="339.4"/><use href="#ci" x="679.3" y="337.7"/>
</g>
<polyline fill="none" stroke="#1f6fd8" stroke-width="0.9" points="421.7,403.2 424.4,401.9 427.1,400.6 429.7,399.4 432.4,398.2 435.1,397.0 437.8,395.9 440.5,394.8 443.2,393.8 445.8,392.8 448.5,391.8 451.2,390.9 453.9,390.0 456.6,389.1 459.3,388.2 461.9,387.3 464.6,386.3 467.3,385.2 470.0,384.1 472.7,383.1 475.4,382.4 478.0,381.9 480.7,381.8 483.4,381.8 486.1,381.9 488.8,382.0 491.5,382.1 494.1,382.2 496.8,382.3 499.5,382.4 502.2,382.5 504.9,382.6 507.6,382.8 510.2,383.0 512.9,383.4 515.6,383.8 518.3,384.3 521.0,384.8 523.7,385.5 526.3,386.4 529.0,387.4 531.7,388.4 534.4,389.6 537.1,391.1 539.8,391.9 542.4,390.8 545.1,387.9 547.8,382.6 550.5,377.3 553.2,374.1 555.8,367.6 558.5,360.5 561.2,357.3 563.9,353.9 566.6,352.3 569.3,351.5 571.9,352.4 574.6,355.4 577.3,358.4 580.0,362.4 582.7,368.1 585.4,369.3 588.0,369.9 590.7,369.9 593.4,369.9 596.1,369.9 598.8,369.0 601.5,367.5 604.1,366.2 606.8,364.6 609.5,362.5 612.2,359.4 614.9,356.1 617.6,352.9 620.2,349.7 622.9,346.3 625.6,342.7 628.3,339.1 631.0,335.6 633.7,332.2 636.3,328.8 639.0,325.7 641.7,322.8 644.4,320.0 647.1,317.2 649.8,314.5 652.4,311.9 655.1,309.0 657.8,306.2 660.5,304.1 663.2,302.7 665.9,301.4 668.5,300.0 671.2,298.6 673.9,297.2 676.6,295.5 679.3,293.5"/>
<g stroke="#1f6fd8" fill="#fff" stroke-width="1.15">
<use href="#tu" x="421.7" y="403.2"/><use href="#tu" x="424.4" y="401.9"/><use href="#tu" x="427.1" y="400.6"/><use href="#tu" x="429.7" y="399.4"/><use href="#tu" x="432.4" y="398.2"/><use href="#tu" x="435.1" y="397.0"/><use href="#tu" x="437.8" y="395.9"/><use href="#tu" x="440.5" y="394.8"/><use href="#tu" x="443.2" y="393.8"/><use href="#tu" x="445.8" y="392.8"/><use href="#tu" x="448.5" y="391.8"/><use href="#tu" x="451.2" y="390.9"/><use href="#tu" x="453.9" y="390.0"/><use href="#tu" x="456.6" y="389.1"/><use href="#tu" x="459.3" y="388.2"/><use href="#tu" x="461.9" y="387.3"/><use href="#tu" x="464.6" y="386.3"/><use href="#tu" x="467.3" y="385.2"/><use href="#tu" x="470.0" y="384.1"/><use href="#tu" x="472.7" y="383.1"/><use href="#tu" x="475.4" y="382.4"/><use href="#tu" x="478.0" y="381.9"/><use href="#tu" x="480.7" y="381.8"/><use href="#tu" x="483.4" y="381.8"/><use href="#tu" x="486.1" y="381.9"/><use href="#tu" x="488.8" y="382.0"/><use href="#tu" x="491.5" y="382.1"/><use href="#tu" x="494.1" y="382.2"/><use href="#tu" x="496.8" y="382.3"/><use href="#tu" x="499.5" y="382.4"/><use href="#tu" x="502.2" y="382.5"/><use href="#tu" x="504.9" y="382.6"/><use href="#tu" x="507.6" y="382.8"/><use href="#tu" x="510.2" y="383.0"/><use href="#tu" x="512.9" y="383.4"/><use href="#tu" x="515.6" y="383.8"/><use href="#tu" x="518.3" y="384.3"/><use href="#tu" x="521.0" y="384.8"/><use href="#tu" x="523.7" y="385.5"/><use href="#tu" x="526.3" y="386.4"/><use href="#tu" x="529.0" y="387.4"/><use href="#tu" x="531.7" y="388.4"/><use href="#tu" x="534.4" y="389.6"/><use href="#tu" x="537.1" y="391.1"/><use href="#tu" x="539.8" y="391.9"/><use href="#tu" x="542.4" y="390.8"/><use href="#tu" x="545.1" y="387.9"/><use href="#tu" x="547.8" y="382.6"/><use href="#tu" x="550.5" y="377.3"/><use href="#tu" x="553.2" y="374.1"/><use href="#tu" x="555.8" y="367.6"/><use href="#tu" x="558.5" y="360.5"/><use href="#tu" x="561.2" y="357.3"/><use href="#tu" x="563.9" y="353.9"/><use href="#tu" x="566.6" y="352.3"/><use href="#tu" x="569.3" y="351.5"/><use href="#tu" x="571.9" y="352.4"/><use href="#tu" x="574.6" y="355.4"/><use href="#tu" x="577.3" y="358.4"/><use href="#tu" x="580.0" y="362.4"/><use href="#tu" x="582.7" y="368.1"/><use href="#tu" x="585.4" y="369.3"/><use href="#tu" x="588.0" y="369.9"/><use href="#tu" x="590.7" y="369.9"/><use href="#tu" x="593.4" y="369.9"/><use href="#tu" x="596.1" y="369.9"/><use href="#tu" x="598.8" y="369.0"/><use href="#tu" x="601.5" y="367.5"/><use href="#tu" x="604.1" y="366.2"/><use href="#tu" x="606.8" y="364.6"/><use href="#tu" x="609.5" y="362.5"/><use href="#tu" x="612.2" y="359.4"/><use href="#tu" x="614.9" y="356.1"/><use href="#tu" x="617.6" y="352.9"/><use href="#tu" x="620.2" y="349.7"/><use href="#tu" x="622.9" y="346.3"/><use href="#tu" x="625.6" y="342.7"/><use href="#tu" x="628.3" y="339.1"/><use href="#tu" x="631.0" y="335.6"/><use href="#tu" x="633.7" y="332.2"/><use href="#tu" x="636.3" y="328.8"/><use href="#tu" x="639.0" y="325.7"/><use href="#tu" x="641.7" y="322.8"/><use href="#tu" x="644.4" y="320.0"/><use href="#tu" x="647.1" y="317.2"/><use href="#tu" x="649.8" y="314.5"/><use href="#tu" x="652.4" y="311.9"/><use href="#tu" x="655.1" y="309.0"/><use href="#tu" x="657.8" y="306.2"/><use href="#tu" x="660.5" y="304.1"/><use href="#tu" x="663.2" y="302.7"/><use href="#tu" x="665.9" y="301.4"/><use href="#tu" x="668.5" y="300.0"/><use href="#tu" x="671.2" y="298.6"/><use href="#tu" x="673.9" y="297.2"/><use href="#tu" x="676.6" y="295.5"/><use href="#tu" x="679.3" y="293.5"/>
</g>
<polyline fill="none" stroke="#38a86a" stroke-width="0.9" points="421.7,400.6 424.4,399.3 427.1,398.0 429.7,396.9 432.4,395.7 435.1,394.7 437.8,393.7 440.5,392.9 443.2,392.1 445.8,391.3 448.5,390.6 451.2,390.0 453.9,389.4 456.6,388.8 459.3,388.2 461.9,387.5 464.6,386.8 467.3,386.1 470.0,385.4 472.7,384.8 475.4,384.4 478.0,384.1 480.7,384.0 483.4,384.3 486.1,384.9 488.8,385.5 491.5,386.1 494.1,386.7 496.8,387.3 499.5,387.9 502.2,388.5 504.9,389.0 507.6,389.4 510.2,389.9 512.9,390.6 515.6,391.7 518.3,393.1 521.0,394.7 523.7,396.4 526.3,398.3 529.0,400.0 531.7,401.7 534.4,402.9 537.1,402.4 539.8,401.4 542.4,399.8 545.1,392.8 547.8,383.7 550.5,376.2 553.2,367.7 555.8,358.9 558.5,356.5 561.2,355.8 563.9,355.5 566.6,356.0 569.3,359.7 571.9,362.8 574.6,365.3 577.3,366.6 580.0,366.9 582.7,364.9 585.4,362.3 588.0,359.1 590.7,355.6 593.4,351.7 596.1,347.2 598.8,342.2 601.5,336.5 604.1,330.1 606.8,324.8 609.5,320.9 612.2,317.3 614.9,313.3 617.6,309.3 620.2,305.4 622.9,301.7 625.6,298.0 628.3,294.1 631.0,289.7 633.7,285.8 636.3,282.3 639.0,279.1 641.7,276.1 644.4,273.4 647.1,270.8 649.8,268.1 652.4,264.7 655.1,261.5 657.8,259.0 660.5,256.8 663.2,254.9 665.9,253.2 668.5,251.6 671.2,250.2 673.9,249.0 676.6,247.9 679.3,246.9"/>
<g stroke="#38a86a" fill="#fff" stroke-width="1.15">
<use href="#td" x="421.7" y="400.6"/><use href="#td" x="424.4" y="399.3"/><use href="#td" x="427.1" y="398.0"/><use href="#td" x="429.7" y="396.9"/><use href="#td" x="432.4" y="395.7"/><use href="#td" x="435.1" y="394.7"/><use href="#td" x="437.8" y="393.7"/><use href="#td" x="440.5" y="392.9"/><use href="#td" x="443.2" y="392.1"/><use href="#td" x="445.8" y="391.3"/><use href="#td" x="448.5" y="390.6"/><use href="#td" x="451.2" y="390.0"/><use href="#td" x="453.9" y="389.4"/><use href="#td" x="456.6" y="388.8"/><use href="#td" x="459.3" y="388.2"/><use href="#td" x="461.9" y="387.5"/><use href="#td" x="464.6" y="386.8"/><use href="#td" x="467.3" y="386.1"/><use href="#td" x="470.0" y="385.4"/><use href="#td" x="472.7" y="384.8"/><use href="#td" x="475.4" y="384.4"/><use href="#td" x="478.0" y="384.1"/><use href="#td" x="480.7" y="384.0"/><use href="#td" x="483.4" y="384.3"/><use href="#td" x="486.1" y="384.9"/><use href="#td" x="488.8" y="385.5"/><use href="#td" x="491.5" y="386.1"/><use href="#td" x="494.1" y="386.7"/><use href="#td" x="496.8" y="387.3"/><use href="#td" x="499.5" y="387.9"/><use href="#td" x="502.2" y="388.5"/><use href="#td" x="504.9" y="389.0"/><use href="#td" x="507.6" y="389.4"/><use href="#td" x="510.2" y="389.9"/><use href="#td" x="512.9" y="390.6"/><use href="#td" x="515.6" y="391.7"/><use href="#td" x="518.3" y="393.1"/><use href="#td" x="521.0" y="394.7"/><use href="#td" x="523.7" y="396.4"/><use href="#td" x="526.3" y="398.3"/><use href="#td" x="529.0" y="400.0"/><use href="#td" x="531.7" y="401.7"/><use href="#td" x="534.4" y="402.9"/><use href="#td" x="537.1" y="402.4"/><use href="#td" x="539.8" y="401.4"/><use href="#td" x="542.4" y="399.8"/><use href="#td" x="545.1" y="392.8"/><use href="#td" x="547.8" y="383.7"/><use href="#td" x="550.5" y="376.2"/><use href="#td" x="553.2" y="367.7"/><use href="#td" x="555.8" y="358.9"/><use href="#td" x="558.5" y="356.5"/><use href="#td" x="561.2" y="355.8"/><use href="#td" x="563.9" y="355.5"/><use href="#td" x="566.6" y="356.0"/><use href="#td" x="569.3" y="359.7"/><use href="#td" x="571.9" y="362.8"/><use href="#td" x="574.6" y="365.3"/><use href="#td" x="577.3" y="366.6"/><use href="#td" x="580.0" y="366.9"/><use href="#td" x="582.7" y="364.9"/><use href="#td" x="585.4" y="362.3"/><use href="#td" x="588.0" y="359.1"/><use href="#td" x="590.7" y="355.6"/><use href="#td" x="593.4" y="351.7"/><use href="#td" x="596.1" y="347.2"/><use href="#td" x="598.8" y="342.2"/><use href="#td" x="601.5" y="336.5"/><use href="#td" x="604.1" y="330.1"/><use href="#td" x="606.8" y="324.8"/><use href="#td" x="609.5" y="320.9"/><use href="#td" x="612.2" y="317.3"/><use href="#td" x="614.9" y="313.3"/><use href="#td" x="617.6" y="309.3"/><use href="#td" x="620.2" y="305.4"/><use href="#td" x="622.9" y="301.7"/><use href="#td" x="625.6" y="298.0"/><use href="#td" x="628.3" y="294.1"/><use href="#td" x="631.0" y="289.7"/><use href="#td" x="633.7" y="285.8"/><use href="#td" x="636.3" y="282.3"/><use href="#td" x="639.0" y="279.1"/><use href="#td" x="641.7" y="276.1"/><use href="#td" x="644.4" y="273.4"/><use href="#td" x="647.1" y="270.8"/><use href="#td" x="649.8" y="268.1"/><use href="#td" x="652.4" y="264.7"/><use href="#td" x="655.1" y="261.5"/><use href="#td" x="657.8" y="259.0"/><use href="#td" x="660.5" y="256.8"/><use href="#td" x="663.2" y="254.9"/><use href="#td" x="665.9" y="253.2"/><use href="#td" x="668.5" y="251.6"/><use href="#td" x="671.2" y="250.2"/><use href="#td" x="673.9" y="249.0"/><use href="#td" x="676.6" y="247.9"/><use href="#td" x="679.3" y="246.9"/>
</g>
<polyline fill="none" stroke="#b070dd" stroke-width="0.9" points="421.7,403.5 424.4,402.5 427.1,401.6 429.7,400.6 432.4,399.7 435.1,398.7 437.8,397.8 440.5,396.8 443.2,395.9 445.8,395.0 448.5,394.1 451.2,393.1 453.9,392.2 456.6,391.3 459.3,390.3 461.9,389.2 464.6,387.9 467.3,386.7 470.0,386.0 472.7,385.6 475.4,385.3 478.0,385.1 480.7,385.2 483.4,386.2 486.1,387.9 488.8,389.5 491.5,390.8 494.1,392.1 496.8,393.5 499.5,395.3 502.2,397.1 504.9,399.0 507.6,400.8 510.2,402.6 512.9,404.3 515.6,406.0 518.3,407.7 521.0,409.0 523.7,409.9 526.3,410.7 529.0,411.0 531.7,409.9 534.4,407.4 537.1,402.6 539.8,397.5 542.4,391.8 545.1,384.3 547.8,376.9 550.5,361.6 553.2,354.1 555.8,353.2 558.5,353.3 561.2,354.7 563.9,356.7 566.6,359.5 569.3,360.6 571.9,358.6 574.6,353.9 577.3,349.0 580.0,342.5 582.7,335.6 585.4,325.8 588.0,318.3 590.7,312.3 593.4,307.0 596.1,300.9 598.8,295.0 601.5,290.0 604.1,284.9 606.8,279.5 609.5,274.1 612.2,269.3 614.9,265.0 617.6,261.0 620.2,256.9 622.9,253.1 625.6,249.8 628.3,247.0 631.0,244.6 633.7,242.6 636.3,240.9 639.0,239.7 641.7,238.8 644.4,238.2 647.1,238.0 649.8,238.1 652.4,238.4 655.1,238.8 657.8,239.3 660.5,240.0 663.2,240.8 665.9,241.6 668.5,242.5 671.2,243.5 673.9,244.7 676.6,245.9 679.3,247.2"/>
<g stroke="#b070dd" fill="#fff" stroke-width="1.15">
<use href="#di" x="421.7" y="403.5"/><use href="#di" x="424.4" y="402.5"/><use href="#di" x="427.1" y="401.6"/><use href="#di" x="429.7" y="400.6"/><use href="#di" x="432.4" y="399.7"/><use href="#di" x="435.1" y="398.7"/><use href="#di" x="437.8" y="397.8"/><use href="#di" x="440.5" y="396.8"/><use href="#di" x="443.2" y="395.9"/><use href="#di" x="445.8" y="395.0"/><use href="#di" x="448.5" y="394.1"/><use href="#di" x="451.2" y="393.1"/><use href="#di" x="453.9" y="392.2"/><use href="#di" x="456.6" y="391.3"/><use href="#di" x="459.3" y="390.3"/><use href="#di" x="461.9" y="389.2"/><use href="#di" x="464.6" y="387.9"/><use href="#di" x="467.3" y="386.7"/><use href="#di" x="470.0" y="386.0"/><use href="#di" x="472.7" y="385.6"/><use href="#di" x="475.4" y="385.3"/><use href="#di" x="478.0" y="385.1"/><use href="#di" x="480.7" y="385.2"/><use href="#di" x="483.4" y="386.2"/><use href="#di" x="486.1" y="387.9"/><use href="#di" x="488.8" y="389.5"/><use href="#di" x="491.5" y="390.8"/><use href="#di" x="494.1" y="392.1"/><use href="#di" x="496.8" y="393.5"/><use href="#di" x="499.5" y="395.3"/><use href="#di" x="502.2" y="397.1"/><use href="#di" x="504.9" y="399.0"/><use href="#di" x="507.6" y="400.8"/><use href="#di" x="510.2" y="402.6"/><use href="#di" x="512.9" y="404.3"/><use href="#di" x="515.6" y="406.0"/><use href="#di" x="518.3" y="407.7"/><use href="#di" x="521.0" y="409.0"/><use href="#di" x="523.7" y="409.9"/><use href="#di" x="526.3" y="410.7"/><use href="#di" x="529.0" y="411.0"/><use href="#di" x="531.7" y="409.9"/><use href="#di" x="534.4" y="407.4"/><use href="#di" x="537.1" y="402.6"/><use href="#di" x="539.8" y="397.5"/><use href="#di" x="542.4" y="391.8"/><use href="#di" x="545.1" y="384.3"/><use href="#di" x="547.8" y="376.9"/><use href="#di" x="550.5" y="361.6"/><use href="#di" x="553.2" y="354.1"/><use href="#di" x="555.8" y="353.2"/><use href="#di" x="558.5" y="353.3"/><use href="#di" x="561.2" y="354.7"/><use href="#di" x="563.9" y="356.7"/><use href="#di" x="566.6" y="359.5"/><use href="#di" x="569.3" y="360.6"/><use href="#di" x="571.9" y="358.6"/><use href="#di" x="574.6" y="353.9"/><use href="#di" x="577.3" y="349.0"/><use href="#di" x="580.0" y="342.5"/><use href="#di" x="582.7" y="335.6"/><use href="#di" x="585.4" y="325.8"/><use href="#di" x="588.0" y="318.3"/><use href="#di" x="590.7" y="312.3"/><use href="#di" x="593.4" y="307.0"/><use href="#di" x="596.1" y="300.9"/><use href="#di" x="598.8" y="295.0"/><use href="#di" x="601.5" y="290.0"/><use href="#di" x="604.1" y="284.9"/><use href="#di" x="606.8" y="279.5"/><use href="#di" x="609.5" y="274.1"/><use href="#di" x="612.2" y="269.3"/><use href="#di" x="614.9" y="265.0"/><use href="#di" x="617.6" y="261.0"/><use href="#di" x="620.2" y="256.9"/><use href="#di" x="622.9" y="253.1"/><use href="#di" x="625.6" y="249.8"/><use href="#di" x="628.3" y="247.0"/><use href="#di" x="631.0" y="244.6"/><use href="#di" x="633.7" y="242.6"/><use href="#di" x="636.3" y="240.9"/><use href="#di" x="639.0" y="239.7"/><use href="#di" x="641.7" y="238.8"/><use href="#di" x="644.4" y="238.2"/><use href="#di" x="647.1" y="238.0"/><use href="#di" x="649.8" y="238.1"/><use href="#di" x="652.4" y="238.4"/><use href="#di" x="655.1" y="238.8"/><use href="#di" x="657.8" y="239.3"/><use href="#di" x="660.5" y="240.0"/><use href="#di" x="663.2" y="240.8"/><use href="#di" x="665.9" y="241.6"/><use href="#di" x="668.5" y="242.5"/><use href="#di" x="671.2" y="243.5"/><use href="#di" x="673.9" y="244.7"/><use href="#di" x="676.6" y="245.9"/><use href="#di" x="679.3" y="247.2"/>
</g>
<polyline fill="none" stroke="#cc9500" stroke-width="0.9" points="421.7,402.1 424.4,401.1 427.1,400.0 429.7,399.0 432.4,398.0 435.1,397.0 437.8,395.9 440.5,394.9 443.2,393.8 445.8,392.8 448.5,391.7 451.2,390.7 453.9,389.6 456.6,388.5 459.3,387.4 461.9,386.4 464.6,385.8 467.3,385.2 470.0,385.0 472.7,385.5 475.4,386.5 478.0,387.9 480.7,389.7 483.4,391.8 486.1,394.2 488.8,396.5 491.5,398.7 494.1,401.0 496.8,403.3 499.5,405.6 502.2,408.0 504.9,409.9 507.6,411.6 510.2,413.0 512.9,413.8 515.6,414.2 518.3,414.4 521.0,414.5 523.7,414.0 526.3,412.9 529.0,410.0 531.7,404.2 534.4,398.8 537.1,394.8 539.8,390.1 542.4,383.4 545.1,374.8 547.8,368.0 550.5,359.7 553.2,351.2 555.8,350.5 558.5,351.6 561.2,351.0 563.9,346.4 566.6,337.7 569.3,328.4 571.9,319.4 574.6,309.3 577.3,300.8 580.0,293.6 582.7,286.2 585.4,278.2 588.0,273.1 590.7,265.9 593.4,259.7 596.1,254.5 598.8,249.0 601.5,244.7 604.1,242.0 606.8,240.9 609.5,239.9 612.2,239.4 614.9,239.6 617.6,240.2 620.2,241.2 622.9,243.7 625.6,246.5 628.3,248.8 631.0,250.9 633.7,253.1 636.3,255.3 639.0,257.5 641.7,259.9 644.4,262.8 647.1,265.1 649.8,266.5 652.4,267.6 655.1,268.7 657.8,269.8 660.5,270.8 663.2,271.8 665.9,272.6 668.5,273.4 671.2,274.3 673.9,275.2 676.6,276.1 679.3,277.0"/>
<g stroke="#cc9500" fill="#fff" stroke-width="1.15">
<use href="#tl" x="421.7" y="402.1"/><use href="#tl" x="424.4" y="401.1"/><use href="#tl" x="427.1" y="400.0"/><use href="#tl" x="429.7" y="399.0"/><use href="#tl" x="432.4" y="398.0"/><use href="#tl" x="435.1" y="397.0"/><use href="#tl" x="437.8" y="395.9"/><use href="#tl" x="440.5" y="394.9"/><use href="#tl" x="443.2" y="393.8"/><use href="#tl" x="445.8" y="392.8"/><use href="#tl" x="448.5" y="391.7"/><use href="#tl" x="451.2" y="390.7"/><use href="#tl" x="453.9" y="389.6"/><use href="#tl" x="456.6" y="388.5"/><use href="#tl" x="459.3" y="387.4"/><use href="#tl" x="461.9" y="386.4"/><use href="#tl" x="464.6" y="385.8"/><use href="#tl" x="467.3" y="385.2"/><use href="#tl" x="470.0" y="385.0"/><use href="#tl" x="472.7" y="385.5"/><use href="#tl" x="475.4" y="386.5"/><use href="#tl" x="478.0" y="387.9"/><use href="#tl" x="480.7" y="389.7"/><use href="#tl" x="483.4" y="391.8"/><use href="#tl" x="486.1" y="394.2"/><use href="#tl" x="488.8" y="396.5"/><use href="#tl" x="491.5" y="398.7"/><use href="#tl" x="494.1" y="401.0"/><use href="#tl" x="496.8" y="403.3"/><use href="#tl" x="499.5" y="405.6"/><use href="#tl" x="502.2" y="408.0"/><use href="#tl" x="504.9" y="409.9"/><use href="#tl" x="507.6" y="411.6"/><use href="#tl" x="510.2" y="413.0"/><use href="#tl" x="512.9" y="413.8"/><use href="#tl" x="515.6" y="414.2"/><use href="#tl" x="518.3" y="414.4"/><use href="#tl" x="521.0" y="414.5"/><use href="#tl" x="523.7" y="414.0"/><use href="#tl" x="526.3" y="412.9"/><use href="#tl" x="529.0" y="410.0"/><use href="#tl" x="531.7" y="404.2"/><use href="#tl" x="534.4" y="398.8"/><use href="#tl" x="537.1" y="394.8"/><use href="#tl" x="539.8" y="390.1"/><use href="#tl" x="542.4" y="383.4"/><use href="#tl" x="545.1" y="374.8"/><use href="#tl" x="547.8" y="368.0"/><use href="#tl" x="550.5" y="359.7"/><use href="#tl" x="553.2" y="351.2"/><use href="#tl" x="555.8" y="350.5"/><use href="#tl" x="558.5" y="351.6"/><use href="#tl" x="561.2" y="351.0"/><use href="#tl" x="563.9" y="346.4"/><use href="#tl" x="566.6" y="337.7"/><use href="#tl" x="569.3" y="328.4"/><use href="#tl" x="571.9" y="319.4"/><use href="#tl" x="574.6" y="309.3"/><use href="#tl" x="577.3" y="300.8"/><use href="#tl" x="580.0" y="293.6"/><use href="#tl" x="582.7" y="286.2"/><use href="#tl" x="585.4" y="278.2"/><use href="#tl" x="588.0" y="273.1"/><use href="#tl" x="590.7" y="265.9"/><use href="#tl" x="593.4" y="259.7"/><use href="#tl" x="596.1" y="254.5"/><use href="#tl" x="598.8" y="249.0"/><use href="#tl" x="601.5" y="244.7"/><use href="#tl" x="604.1" y="242.0"/><use href="#tl" x="606.8" y="240.9"/><use href="#tl" x="609.5" y="239.9"/><use href="#tl" x="612.2" y="239.4"/><use href="#tl" x="614.9" y="239.6"/><use href="#tl" x="617.6" y="240.2"/><use href="#tl" x="620.2" y="241.2"/><use href="#tl" x="622.9" y="243.7"/><use href="#tl" x="625.6" y="246.5"/><use href="#tl" x="628.3" y="248.8"/><use href="#tl" x="631.0" y="250.9"/><use href="#tl" x="633.7" y="253.1"/><use href="#tl" x="636.3" y="255.3"/><use href="#tl" x="639.0" y="257.5"/><use href="#tl" x="641.7" y="259.9"/><use href="#tl" x="644.4" y="262.8"/><use href="#tl" x="647.1" y="265.1"/><use href="#tl" x="649.8" y="266.5"/><use href="#tl" x="652.4" y="267.6"/><use href="#tl" x="655.1" y="268.7"/><use href="#tl" x="657.8" y="269.8"/><use href="#tl" x="660.5" y="270.8"/><use href="#tl" x="663.2" y="271.8"/><use href="#tl" x="665.9" y="272.6"/><use href="#tl" x="668.5" y="273.4"/><use href="#tl" x="671.2" y="274.3"/><use href="#tl" x="673.9" y="275.2"/><use href="#tl" x="676.6" y="276.1"/><use href="#tl" x="679.3" y="277.0"/>
</g>
<polyline fill="none" stroke="#00c8c8" stroke-width="0.9" points="421.7,400.5 424.4,399.3 427.1,398.1 429.7,396.8 432.4,395.5 435.1,394.0 437.8,392.4 440.5,390.8 443.2,389.6 445.8,388.7 448.5,388.0 451.2,387.2 453.9,385.7 456.6,384.2 459.3,384.5 461.9,385.4 464.6,386.2 467.3,387.2 470.0,388.7 472.7,391.4 475.4,394.7 478.0,397.4 480.7,400.0 483.4,402.9 486.1,406.3 488.8,408.8 491.5,410.5 494.1,411.8 496.8,412.6 499.5,413.2 502.2,413.6 504.9,413.8 507.6,413.3 510.2,412.3 512.9,411.0 515.6,409.2 518.3,406.8 521.0,404.2 523.7,401.8 526.3,399.2 529.0,396.2 531.7,392.6 534.4,388.3 537.1,383.3 539.8,377.4 542.4,370.2 545.1,359.7 547.8,352.3 550.5,347.9 553.2,345.0 555.8,341.4 558.5,336.7 561.2,324.4 563.9,310.1 566.6,299.3 569.3,290.0 571.9,277.1 574.6,268.0 577.3,259.9 580.0,251.6 582.7,244.4 585.4,241.3 588.0,240.8 590.7,241.4 593.4,243.5 596.1,246.4 598.8,249.7 601.5,252.8 604.1,255.4 606.8,257.8 609.5,260.5 612.2,263.2 614.9,265.9 617.6,268.8 620.2,271.3 622.9,273.2 625.6,274.6 628.3,275.7 631.0,276.7 633.7,277.7 636.3,278.8 639.0,280.0 641.7,281.0 644.4,281.8 647.1,282.6 649.8,283.3 652.4,284.2 655.1,285.1 657.8,285.9 660.5,286.5 663.2,287.0 665.9,287.5 668.5,288.0 671.2,288.5 673.9,289.0 676.6,289.5 679.3,290.0"/>
<g stroke="#00c8c8" fill="#fff" stroke-width="1.15">
<use href="#tr" x="421.7" y="400.5"/><use href="#tr" x="424.4" y="399.3"/><use href="#tr" x="427.1" y="398.1"/><use href="#tr" x="429.7" y="396.8"/><use href="#tr" x="432.4" y="395.5"/><use href="#tr" x="435.1" y="394.0"/><use href="#tr" x="437.8" y="392.4"/><use href="#tr" x="440.5" y="390.8"/><use href="#tr" x="443.2" y="389.6"/><use href="#tr" x="445.8" y="388.7"/><use href="#tr" x="448.5" y="388.0"/><use href="#tr" x="451.2" y="387.2"/><use href="#tr" x="453.9" y="385.7"/><use href="#tr" x="456.6" y="384.2"/><use href="#tr" x="459.3" y="384.5"/><use href="#tr" x="461.9" y="385.4"/><use href="#tr" x="464.6" y="386.2"/><use href="#tr" x="467.3" y="387.2"/><use href="#tr" x="470.0" y="388.7"/><use href="#tr" x="472.7" y="391.4"/><use href="#tr" x="475.4" y="394.7"/><use href="#tr" x="478.0" y="397.4"/><use href="#tr" x="480.7" y="400.0"/><use href="#tr" x="483.4" y="402.9"/><use href="#tr" x="486.1" y="406.3"/><use href="#tr" x="488.8" y="408.8"/><use href="#tr" x="491.5" y="410.5"/><use href="#tr" x="494.1" y="411.8"/><use href="#tr" x="496.8" y="412.6"/><use href="#tr" x="499.5" y="413.2"/><use href="#tr" x="502.2" y="413.6"/><use href="#tr" x="504.9" y="413.8"/><use href="#tr" x="507.6" y="413.3"/><use href="#tr" x="510.2" y="412.3"/><use href="#tr" x="512.9" y="411.0"/><use href="#tr" x="515.6" y="409.2"/><use href="#tr" x="518.3" y="406.8"/><use href="#tr" x="521.0" y="404.2"/><use href="#tr" x="523.7" y="401.8"/><use href="#tr" x="526.3" y="399.2"/><use href="#tr" x="529.0" y="396.2"/><use href="#tr" x="531.7" y="392.6"/><use href="#tr" x="534.4" y="388.3"/><use href="#tr" x="537.1" y="383.3"/><use href="#tr" x="539.8" y="377.4"/><use href="#tr" x="542.4" y="370.2"/><use href="#tr" x="545.1" y="359.7"/><use href="#tr" x="547.8" y="352.3"/><use href="#tr" x="550.5" y="347.9"/><use href="#tr" x="553.2" y="345.0"/><use href="#tr" x="555.8" y="341.4"/><use href="#tr" x="558.5" y="336.7"/><use href="#tr" x="561.2" y="324.4"/><use href="#tr" x="563.9" y="310.1"/><use href="#tr" x="566.6" y="299.3"/><use href="#tr" x="569.3" y="290.0"/><use href="#tr" x="571.9" y="277.1"/><use href="#tr" x="574.6" y="268.0"/><use href="#tr" x="577.3" y="259.9"/><use href="#tr" x="580.0" y="251.6"/><use href="#tr" x="582.7" y="244.4"/><use href="#tr" x="585.4" y="241.3"/><use href="#tr" x="588.0" y="240.8"/><use href="#tr" x="590.7" y="241.4"/><use href="#tr" x="593.4" y="243.5"/><use href="#tr" x="596.1" y="246.4"/><use href="#tr" x="598.8" y="249.7"/><use href="#tr" x="601.5" y="252.8"/><use href="#tr" x="604.1" y="255.4"/><use href="#tr" x="606.8" y="257.8"/><use href="#tr" x="609.5" y="260.5"/><use href="#tr" x="612.2" y="263.2"/><use href="#tr" x="614.9" y="265.9"/><use href="#tr" x="617.6" y="268.8"/><use href="#tr" x="620.2" y="271.3"/><use href="#tr" x="622.9" y="273.2"/><use href="#tr" x="625.6" y="274.6"/><use href="#tr" x="628.3" y="275.7"/><use href="#tr" x="631.0" y="276.7"/><use href="#tr" x="633.7" y="277.7"/><use href="#tr" x="636.3" y="278.8"/><use href="#tr" x="639.0" y="280.0"/><use href="#tr" x="641.7" y="281.0"/><use href="#tr" x="644.4" y="281.8"/><use href="#tr" x="647.1" y="282.6"/><use href="#tr" x="649.8" y="283.3"/><use href="#tr" x="652.4" y="284.2"/><use href="#tr" x="655.1" y="285.1"/><use href="#tr" x="657.8" y="285.9"/><use href="#tr" x="660.5" y="286.5"/><use href="#tr" x="663.2" y="287.0"/><use href="#tr" x="665.9" y="287.5"/><use href="#tr" x="668.5" y="288.0"/><use href="#tr" x="671.2" y="288.5"/><use href="#tr" x="673.9" y="289.0"/><use href="#tr" x="676.6" y="289.5"/><use href="#tr" x="679.3" y="290.0"/>
</g>
<polyline fill="none" stroke="#7a4848" stroke-width="0.9" points="421.7,397.4 424.4,395.6 427.1,393.9 429.7,392.6 432.4,391.3 435.1,389.7 437.8,388.0 440.5,386.4 443.2,385.0 445.8,384.2 448.5,384.1 451.2,385.3 453.9,386.9 456.6,388.8 459.3,390.3 461.9,392.3 464.6,395.5 467.3,397.9 470.0,399.9 472.7,402.2 475.4,404.4 478.0,405.8 480.7,406.7 483.4,407.2 486.1,407.6 488.8,407.7 491.5,407.7 494.1,407.7 496.8,407.7 499.5,406.0 502.2,404.0 504.9,402.7 507.6,401.4 510.2,400.0 512.9,398.4 515.6,396.6 518.3,394.7 521.0,392.7 523.7,390.5 526.3,388.0 529.0,385.0 531.7,381.5 534.4,376.7 537.1,370.0 539.8,362.3 542.4,354.5 545.1,342.9 547.8,338.6 550.5,334.0 553.2,326.0 555.8,308.1 558.5,291.8 561.2,276.5 563.9,265.0 566.6,253.5 569.3,245.5 571.9,242.6 574.6,243.8 577.3,247.6 580.0,253.0 582.7,257.6 585.4,261.3 588.0,264.6 590.7,267.9 593.4,270.7 596.1,272.6 598.8,273.8 601.5,274.4 604.1,274.8 606.8,275.2 609.5,275.4 612.2,275.8 614.9,276.6 617.6,277.6 620.2,278.6 622.9,279.8 625.6,280.8 628.3,281.9 631.0,283.0 633.7,284.1 636.3,285.2 639.0,286.2 641.7,287.3 644.4,288.3 647.1,289.2 649.8,290.1 652.4,291.0 655.1,291.8 657.8,292.6 660.5,293.2 663.2,293.8 665.9,294.3 668.5,294.8 671.2,295.3 673.9,295.7 676.6,296.2 679.3,296.7"/>
<g stroke="#7a4848" fill="#fff" stroke-width="1.15">
<use href="#ci" x="421.7" y="397.4"/><use href="#ci" x="424.4" y="395.6"/><use href="#ci" x="427.1" y="393.9"/><use href="#ci" x="429.7" y="392.6"/><use href="#ci" x="432.4" y="391.3"/><use href="#ci" x="435.1" y="389.7"/><use href="#ci" x="437.8" y="388.0"/><use href="#ci" x="440.5" y="386.4"/><use href="#ci" x="443.2" y="385.0"/><use href="#ci" x="445.8" y="384.2"/><use href="#ci" x="448.5" y="384.1"/><use href="#ci" x="451.2" y="385.3"/><use href="#ci" x="453.9" y="386.9"/><use href="#ci" x="456.6" y="388.8"/><use href="#ci" x="459.3" y="390.3"/><use href="#ci" x="461.9" y="392.3"/><use href="#ci" x="464.6" y="395.5"/><use href="#ci" x="467.3" y="397.9"/><use href="#ci" x="470.0" y="399.9"/><use href="#ci" x="472.7" y="402.2"/><use href="#ci" x="475.4" y="404.4"/><use href="#ci" x="478.0" y="405.8"/><use href="#ci" x="480.7" y="406.7"/><use href="#ci" x="483.4" y="407.2"/><use href="#ci" x="486.1" y="407.6"/><use href="#ci" x="488.8" y="407.7"/><use href="#ci" x="491.5" y="407.7"/><use href="#ci" x="494.1" y="407.7"/><use href="#ci" x="496.8" y="407.7"/><use href="#ci" x="499.5" y="406.0"/><use href="#ci" x="502.2" y="404.0"/><use href="#ci" x="504.9" y="402.7"/><use href="#ci" x="507.6" y="401.4"/><use href="#ci" x="510.2" y="400.0"/><use href="#ci" x="512.9" y="398.4"/><use href="#ci" x="515.6" y="396.6"/><use href="#ci" x="518.3" y="394.7"/><use href="#ci" x="521.0" y="392.7"/><use href="#ci" x="523.7" y="390.5"/><use href="#ci" x="526.3" y="388.0"/><use href="#ci" x="529.0" y="385.0"/><use href="#ci" x="531.7" y="381.5"/><use href="#ci" x="534.4" y="376.7"/><use href="#ci" x="537.1" y="370.0"/><use href="#ci" x="539.8" y="362.3"/><use href="#ci" x="542.4" y="354.5"/><use href="#ci" x="545.1" y="342.9"/><use href="#ci" x="547.8" y="338.6"/><use href="#ci" x="550.5" y="334.0"/><use href="#ci" x="553.2" y="326.0"/><use href="#ci" x="555.8" y="308.1"/><use href="#ci" x="558.5" y="291.8"/><use href="#ci" x="561.2" y="276.5"/><use href="#ci" x="563.9" y="265.0"/><use href="#ci" x="566.6" y="253.5"/><use href="#ci" x="569.3" y="245.5"/><use href="#ci" x="571.9" y="242.6"/><use href="#ci" x="574.6" y="243.8"/><use href="#ci" x="577.3" y="247.6"/><use href="#ci" x="580.0" y="253.0"/><use href="#ci" x="582.7" y="257.6"/><use href="#ci" x="585.4" y="261.3"/><use href="#ci" x="588.0" y="264.6"/><use href="#ci" x="590.7" y="267.9"/><use href="#ci" x="593.4" y="270.7"/><use href="#ci" x="596.1" y="272.6"/><use href="#ci" x="598.8" y="273.8"/><use href="#ci" x="601.5" y="274.4"/><use href="#ci" x="604.1" y="274.8"/><use href="#ci" x="606.8" y="275.2"/><use href="#ci" x="609.5" y="275.4"/><use href="#ci" x="612.2" y="275.8"/><use href="#ci" x="614.9" y="276.6"/><use href="#ci" x="617.6" y="277.6"/><use href="#ci" x="620.2" y="278.6"/><use href="#ci" x="622.9" y="279.8"/><use href="#ci" x="625.6" y="280.8"/><use href="#ci" x="628.3" y="281.9"/><use href="#ci" x="631.0" y="283.0"/><use href="#ci" x="633.7" y="284.1"/><use href="#ci" x="636.3" y="285.2"/><use href="#ci" x="639.0" y="286.2"/><use href="#ci" x="641.7" y="287.3"/><use href="#ci" x="644.4" y="288.3"/><use href="#ci" x="647.1" y="289.2"/><use href="#ci" x="649.8" y="290.1"/><use href="#ci" x="652.4" y="291.0"/><use href="#ci" x="655.1" y="291.8"/><use href="#ci" x="657.8" y="292.6"/><use href="#ci" x="660.5" y="293.2"/><use href="#ci" x="663.2" y="293.8"/><use href="#ci" x="665.9" y="294.3"/><use href="#ci" x="668.5" y="294.8"/><use href="#ci" x="671.2" y="295.3"/><use href="#ci" x="673.9" y="295.7"/><use href="#ci" x="676.6" y="296.2"/><use href="#ci" x="679.3" y="296.7"/>
</g>
</g>
<line x1="536.00" y1="68.80" x2="626.50" y2="98.20" stroke="#111" stroke-width="0.95"/>
<path d="M626.50,98.20 L621.89,98.80 L623.12,95.00Z" fill="#111"/>
<line x1="454.00" y1="169.10" x2="545.00" y2="199.20" stroke="#111" stroke-width="0.95"/>
<path d="M545.00,199.20 L540.38,199.78 L541.64,195.98Z" fill="#111"/>
<text x="542.6" y="68.6" font-size="18" font-family="Liberation Serif" font-style="italic" font-weight="bold">α</text>
<text x="484.0" y="172.5" font-size="17" font-family="Liberation Serif" font-style="italic" font-weight="bold">β</text>
<rect x="685" y="19.00" width="17" height="51.67" fill="#646464"/>
<line x1="702.00" y1="44.69" x2="706.00" y2="44.69" stroke="#000" stroke-width="1"/>
<text x="709.2" y="49.29" font-size="14">10<tspan font-size="10" dy="-4.9">6</tspan><tspan dy="4.9"> Hz</tspan></text>
<rect x="685" y="70.38" width="17" height="51.67" fill="#f04040"/>
<line x1="702.00" y1="96.06" x2="706.00" y2="96.06" stroke="#000" stroke-width="1"/>
<text x="709.2" y="100.66" font-size="14">10<tspan font-size="10" dy="-4.9">5</tspan><tspan dy="4.9"> Hz</tspan></text>
<rect x="685" y="121.75" width="17" height="51.67" fill="#1f6fd8"/>
<line x1="702.00" y1="147.44" x2="706.00" y2="147.44" stroke="#000" stroke-width="1"/>
<text x="709.2" y="152.04" font-size="14">10<tspan font-size="10" dy="-4.9">4</tspan><tspan dy="4.9"> Hz</tspan></text>
<rect x="685" y="173.12" width="17" height="51.67" fill="#38a86a"/>
<line x1="702.00" y1="198.81" x2="706.00" y2="198.81" stroke="#000" stroke-width="1"/>
<text x="709.2" y="203.41" font-size="14">10<tspan font-size="10" dy="-4.9">3</tspan><tspan dy="4.9"> Hz</tspan></text>
<rect x="685" y="224.50" width="17" height="51.67" fill="#b070dd"/>
<line x1="702.00" y1="250.19" x2="706.00" y2="250.19" stroke="#000" stroke-width="1"/>
<text x="709.2" y="254.79" font-size="14">10<tspan font-size="10" dy="-4.9">2</tspan><tspan dy="4.9"> Hz</tspan></text>
<rect x="685" y="275.88" width="17" height="51.67" fill="#cc9500"/>
<line x1="702.00" y1="301.56" x2="706.00" y2="301.56" stroke="#000" stroke-width="1"/>
<text x="709.2" y="306.16" font-size="14">10<tspan font-size="10" dy="-4.9">1</tspan><tspan dy="4.9"> Hz</tspan></text>
<rect x="685" y="327.25" width="17" height="51.67" fill="#00c8c8"/>
<line x1="702.00" y1="352.94" x2="706.00" y2="352.94" stroke="#000" stroke-width="1"/>
<text x="709.2" y="357.54" font-size="14">10<tspan font-size="10" dy="-4.9">0</tspan><tspan dy="4.9"> Hz</tspan></text>
<rect x="685" y="378.62" width="17" height="51.67" fill="#7b4f4f"/>
<line x1="702.00" y1="404.31" x2="706.00" y2="404.31" stroke="#000" stroke-width="1"/>
<text x="709.2" y="408.91" font-size="14">10<tspan font-size="10" dy="-4.9">-1</tspan><tspan dy="4.9"> Hz</tspan></text>
<rect x="685.5" y="19.5" width="16" height="410" fill="none" stroke="#3a3a3a" stroke-width="1"/>
</svg></body></html>
